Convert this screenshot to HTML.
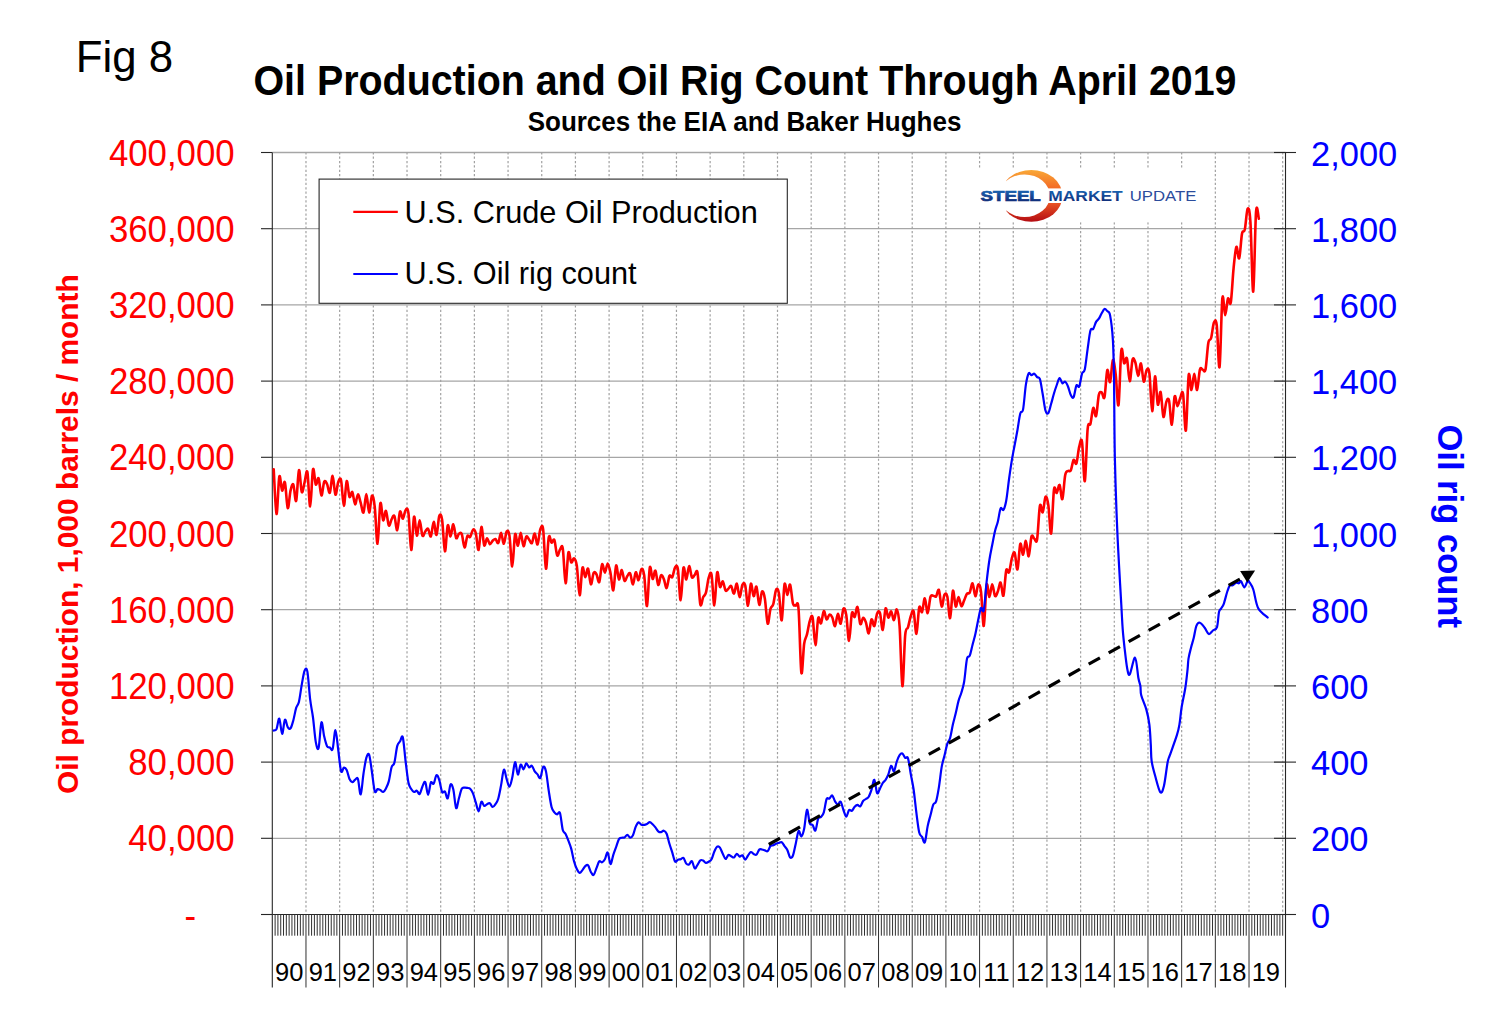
<!DOCTYPE html>
<html><head><meta charset="utf-8"><style>
html,body{margin:0;padding:0;background:#fff;}
body{width:1493px;height:1022px;overflow:hidden;}
svg{display:block;font-family:"Liberation Sans",sans-serif;}
.yl{font-size:34.8px;fill:#ff0000;}
.yr{font-size:34.5px;fill:#0000ff;}
.xl{font-size:25.5px;fill:#000;}
</style></head><body>
<svg width="1493" height="1022" viewBox="0 0 1493 1022">
<defs>
<linearGradient id="og" x1="0" y1="0" x2="0" y2="1"><stop offset="0" stop-color="#f9a836"/><stop offset="0.35" stop-color="#f36b26"/><stop offset="0.62" stop-color="#ec5624"/><stop offset="1" stop-color="#b40c12"/></linearGradient>
<linearGradient id="bg" x1="0" y1="0" x2="0" y2="1"><stop offset="0" stop-color="#1b6fbd"/><stop offset="1" stop-color="#0e1f6b"/></linearGradient>
</defs>
<text transform="translate(75.7,71.6) scale(1,1.02)" font-size="43.8" fill="#000">Fig 8</text>
<text transform="translate(745,95.4) scale(1,1.06)" font-size="39.4" font-weight="bold" text-anchor="middle" fill="#000">Oil Production and Oil Rig Count Through April 2019</text>
<text transform="translate(744.5,130.8) scale(1,1.05)" font-size="26" font-weight="bold" text-anchor="middle" fill="#000">Sources the EIA and Baker Hughes</text>
<g><line x1="272.3" y1="152.50" x2="1285.51" y2="152.50" stroke="#a6a6a6" stroke-width="1.3"/>
<line x1="272.3" y1="228.70" x2="1285.51" y2="228.70" stroke="#a6a6a6" stroke-width="1.3"/>
<line x1="272.3" y1="304.90" x2="1285.51" y2="304.90" stroke="#a6a6a6" stroke-width="1.3"/>
<line x1="272.3" y1="381.10" x2="1285.51" y2="381.10" stroke="#a6a6a6" stroke-width="1.3"/>
<line x1="272.3" y1="457.30" x2="1285.51" y2="457.30" stroke="#a6a6a6" stroke-width="1.3"/>
<line x1="272.3" y1="533.50" x2="1285.51" y2="533.50" stroke="#a6a6a6" stroke-width="1.3"/>
<line x1="272.3" y1="609.70" x2="1285.51" y2="609.70" stroke="#a6a6a6" stroke-width="1.3"/>
<line x1="272.3" y1="685.90" x2="1285.51" y2="685.90" stroke="#a6a6a6" stroke-width="1.3"/>
<line x1="272.3" y1="762.10" x2="1285.51" y2="762.10" stroke="#a6a6a6" stroke-width="1.3"/>
<line x1="272.3" y1="838.30" x2="1285.51" y2="838.30" stroke="#a6a6a6" stroke-width="1.3"/>
<line x1="305.98" y1="152.5" x2="305.98" y2="914.5" stroke="#a0a0a0" stroke-width="1.2" stroke-dasharray="2.2 2.178" stroke-dashoffset="0.31"/>
<line x1="339.66" y1="152.5" x2="339.66" y2="914.5" stroke="#a0a0a0" stroke-width="1.2" stroke-dasharray="2.2 2.178" stroke-dashoffset="0.31"/>
<line x1="373.34" y1="152.5" x2="373.34" y2="914.5" stroke="#a0a0a0" stroke-width="1.2" stroke-dasharray="2.2 2.178" stroke-dashoffset="0.31"/>
<line x1="407.02" y1="152.5" x2="407.02" y2="914.5" stroke="#a0a0a0" stroke-width="1.2" stroke-dasharray="2.2 2.178" stroke-dashoffset="0.31"/>
<line x1="440.70" y1="152.5" x2="440.70" y2="914.5" stroke="#a0a0a0" stroke-width="1.2" stroke-dasharray="2.2 2.178" stroke-dashoffset="0.31"/>
<line x1="474.38" y1="152.5" x2="474.38" y2="914.5" stroke="#a0a0a0" stroke-width="1.2" stroke-dasharray="2.2 2.178" stroke-dashoffset="0.31"/>
<line x1="508.06" y1="152.5" x2="508.06" y2="914.5" stroke="#a0a0a0" stroke-width="1.2" stroke-dasharray="2.2 2.178" stroke-dashoffset="0.31"/>
<line x1="541.74" y1="152.5" x2="541.74" y2="914.5" stroke="#a0a0a0" stroke-width="1.2" stroke-dasharray="2.2 2.178" stroke-dashoffset="0.31"/>
<line x1="575.42" y1="152.5" x2="575.42" y2="914.5" stroke="#a0a0a0" stroke-width="1.2" stroke-dasharray="2.2 2.178" stroke-dashoffset="0.31"/>
<line x1="609.10" y1="152.5" x2="609.10" y2="914.5" stroke="#a0a0a0" stroke-width="1.2" stroke-dasharray="2.2 2.178" stroke-dashoffset="0.31"/>
<line x1="642.78" y1="152.5" x2="642.78" y2="914.5" stroke="#a0a0a0" stroke-width="1.2" stroke-dasharray="2.2 2.178" stroke-dashoffset="0.31"/>
<line x1="676.46" y1="152.5" x2="676.46" y2="914.5" stroke="#a0a0a0" stroke-width="1.2" stroke-dasharray="2.2 2.178" stroke-dashoffset="0.31"/>
<line x1="710.14" y1="152.5" x2="710.14" y2="914.5" stroke="#a0a0a0" stroke-width="1.2" stroke-dasharray="2.2 2.178" stroke-dashoffset="0.31"/>
<line x1="743.82" y1="152.5" x2="743.82" y2="914.5" stroke="#a0a0a0" stroke-width="1.2" stroke-dasharray="2.2 2.178" stroke-dashoffset="0.31"/>
<line x1="777.50" y1="152.5" x2="777.50" y2="914.5" stroke="#a0a0a0" stroke-width="1.2" stroke-dasharray="2.2 2.178" stroke-dashoffset="0.31"/>
<line x1="811.18" y1="152.5" x2="811.18" y2="914.5" stroke="#a0a0a0" stroke-width="1.2" stroke-dasharray="2.2 2.178" stroke-dashoffset="0.31"/>
<line x1="844.86" y1="152.5" x2="844.86" y2="914.5" stroke="#a0a0a0" stroke-width="1.2" stroke-dasharray="2.2 2.178" stroke-dashoffset="0.31"/>
<line x1="878.54" y1="152.5" x2="878.54" y2="914.5" stroke="#a0a0a0" stroke-width="1.2" stroke-dasharray="2.2 2.178" stroke-dashoffset="0.31"/>
<line x1="912.22" y1="152.5" x2="912.22" y2="914.5" stroke="#a0a0a0" stroke-width="1.2" stroke-dasharray="2.2 2.178" stroke-dashoffset="0.31"/>
<line x1="945.90" y1="152.5" x2="945.90" y2="914.5" stroke="#a0a0a0" stroke-width="1.2" stroke-dasharray="2.2 2.178" stroke-dashoffset="0.31"/>
<line x1="979.58" y1="152.5" x2="979.58" y2="914.5" stroke="#a0a0a0" stroke-width="1.2" stroke-dasharray="2.2 2.178" stroke-dashoffset="0.31"/>
<line x1="1013.26" y1="152.5" x2="1013.26" y2="914.5" stroke="#a0a0a0" stroke-width="1.2" stroke-dasharray="2.2 2.178" stroke-dashoffset="0.31"/>
<line x1="1046.94" y1="152.5" x2="1046.94" y2="914.5" stroke="#a0a0a0" stroke-width="1.2" stroke-dasharray="2.2 2.178" stroke-dashoffset="0.31"/>
<line x1="1080.62" y1="152.5" x2="1080.62" y2="914.5" stroke="#a0a0a0" stroke-width="1.2" stroke-dasharray="2.2 2.178" stroke-dashoffset="0.31"/>
<line x1="1114.30" y1="152.5" x2="1114.30" y2="914.5" stroke="#a0a0a0" stroke-width="1.2" stroke-dasharray="2.2 2.178" stroke-dashoffset="0.31"/>
<line x1="1147.98" y1="152.5" x2="1147.98" y2="914.5" stroke="#a0a0a0" stroke-width="1.2" stroke-dasharray="2.2 2.178" stroke-dashoffset="0.31"/>
<line x1="1181.66" y1="152.5" x2="1181.66" y2="914.5" stroke="#a0a0a0" stroke-width="1.2" stroke-dasharray="2.2 2.178" stroke-dashoffset="0.31"/>
<line x1="1215.34" y1="152.5" x2="1215.34" y2="914.5" stroke="#a0a0a0" stroke-width="1.2" stroke-dasharray="2.2 2.178" stroke-dashoffset="0.31"/>
<line x1="1249.02" y1="152.5" x2="1249.02" y2="914.5" stroke="#a0a0a0" stroke-width="1.2" stroke-dasharray="2.2 2.178" stroke-dashoffset="0.31"/>
<line x1="1282.70" y1="152.5" x2="1282.70" y2="914.5" stroke="#a0a0a0" stroke-width="1.2" stroke-dasharray="2.2 2.178" stroke-dashoffset="0.31"/></g>
<rect x="962" y="168.6" width="243" height="53.6" fill="#fff"/>
<g><line x1="272.3" y1="152.5" x2="272.3" y2="987.5" stroke="#262626" stroke-width="1.1"/>
<line x1="1285.51" y1="152.5" x2="1285.51" y2="987.5" stroke="#262626" stroke-width="1.1"/>
<line x1="272.3" y1="914.5" x2="1285.51" y2="914.5" stroke="#262626" stroke-width="1.1"/>
<line x1="261" y1="152.50" x2="272.3" y2="152.50" stroke="#262626" stroke-width="1.1"/>
<line x1="1274" y1="152.50" x2="1296" y2="152.50" stroke="#262626" stroke-width="1.1"/>
<line x1="261" y1="228.70" x2="272.3" y2="228.70" stroke="#262626" stroke-width="1.1"/>
<line x1="1274" y1="228.70" x2="1296" y2="228.70" stroke="#262626" stroke-width="1.1"/>
<line x1="261" y1="304.90" x2="272.3" y2="304.90" stroke="#262626" stroke-width="1.1"/>
<line x1="1274" y1="304.90" x2="1296" y2="304.90" stroke="#262626" stroke-width="1.1"/>
<line x1="261" y1="381.10" x2="272.3" y2="381.10" stroke="#262626" stroke-width="1.1"/>
<line x1="1274" y1="381.10" x2="1296" y2="381.10" stroke="#262626" stroke-width="1.1"/>
<line x1="261" y1="457.30" x2="272.3" y2="457.30" stroke="#262626" stroke-width="1.1"/>
<line x1="1274" y1="457.30" x2="1296" y2="457.30" stroke="#262626" stroke-width="1.1"/>
<line x1="261" y1="533.50" x2="272.3" y2="533.50" stroke="#262626" stroke-width="1.1"/>
<line x1="1274" y1="533.50" x2="1296" y2="533.50" stroke="#262626" stroke-width="1.1"/>
<line x1="261" y1="609.70" x2="272.3" y2="609.70" stroke="#262626" stroke-width="1.1"/>
<line x1="1274" y1="609.70" x2="1296" y2="609.70" stroke="#262626" stroke-width="1.1"/>
<line x1="261" y1="685.90" x2="272.3" y2="685.90" stroke="#262626" stroke-width="1.1"/>
<line x1="1274" y1="685.90" x2="1296" y2="685.90" stroke="#262626" stroke-width="1.1"/>
<line x1="261" y1="762.10" x2="272.3" y2="762.10" stroke="#262626" stroke-width="1.1"/>
<line x1="1274" y1="762.10" x2="1296" y2="762.10" stroke="#262626" stroke-width="1.1"/>
<line x1="261" y1="838.30" x2="272.3" y2="838.30" stroke="#262626" stroke-width="1.1"/>
<line x1="1274" y1="838.30" x2="1296" y2="838.30" stroke="#262626" stroke-width="1.1"/>
<line x1="261" y1="914.50" x2="272.3" y2="914.50" stroke="#262626" stroke-width="1.1"/>
<line x1="1274" y1="914.50" x2="1296" y2="914.50" stroke="#262626" stroke-width="1.1"/>
<line x1="275.11" y1="914.5" x2="275.11" y2="935.7" stroke="#303030" stroke-width="1"/>
<line x1="277.91" y1="914.5" x2="277.91" y2="935.7" stroke="#303030" stroke-width="1"/>
<line x1="280.72" y1="914.5" x2="280.72" y2="935.7" stroke="#303030" stroke-width="1"/>
<line x1="283.53" y1="914.5" x2="283.53" y2="935.7" stroke="#303030" stroke-width="1"/>
<line x1="286.33" y1="914.5" x2="286.33" y2="935.7" stroke="#303030" stroke-width="1"/>
<line x1="289.14" y1="914.5" x2="289.14" y2="935.7" stroke="#303030" stroke-width="1"/>
<line x1="291.95" y1="914.5" x2="291.95" y2="935.7" stroke="#303030" stroke-width="1"/>
<line x1="294.75" y1="914.5" x2="294.75" y2="935.7" stroke="#303030" stroke-width="1"/>
<line x1="297.56" y1="914.5" x2="297.56" y2="935.7" stroke="#303030" stroke-width="1"/>
<line x1="300.37" y1="914.5" x2="300.37" y2="935.7" stroke="#303030" stroke-width="1"/>
<line x1="303.17" y1="914.5" x2="303.17" y2="935.7" stroke="#303030" stroke-width="1"/>
<line x1="305.98" y1="914.5" x2="305.98" y2="987.5" stroke="#303030" stroke-width="1"/>
<line x1="308.79" y1="914.5" x2="308.79" y2="935.7" stroke="#303030" stroke-width="1"/>
<line x1="311.59" y1="914.5" x2="311.59" y2="935.7" stroke="#303030" stroke-width="1"/>
<line x1="314.40" y1="914.5" x2="314.40" y2="935.7" stroke="#303030" stroke-width="1"/>
<line x1="317.21" y1="914.5" x2="317.21" y2="935.7" stroke="#303030" stroke-width="1"/>
<line x1="320.01" y1="914.5" x2="320.01" y2="935.7" stroke="#303030" stroke-width="1"/>
<line x1="322.82" y1="914.5" x2="322.82" y2="935.7" stroke="#303030" stroke-width="1"/>
<line x1="325.63" y1="914.5" x2="325.63" y2="935.7" stroke="#303030" stroke-width="1"/>
<line x1="328.43" y1="914.5" x2="328.43" y2="935.7" stroke="#303030" stroke-width="1"/>
<line x1="331.24" y1="914.5" x2="331.24" y2="935.7" stroke="#303030" stroke-width="1"/>
<line x1="334.05" y1="914.5" x2="334.05" y2="935.7" stroke="#303030" stroke-width="1"/>
<line x1="336.85" y1="914.5" x2="336.85" y2="935.7" stroke="#303030" stroke-width="1"/>
<line x1="339.66" y1="914.5" x2="339.66" y2="987.5" stroke="#303030" stroke-width="1"/>
<line x1="342.47" y1="914.5" x2="342.47" y2="935.7" stroke="#303030" stroke-width="1"/>
<line x1="345.27" y1="914.5" x2="345.27" y2="935.7" stroke="#303030" stroke-width="1"/>
<line x1="348.08" y1="914.5" x2="348.08" y2="935.7" stroke="#303030" stroke-width="1"/>
<line x1="350.89" y1="914.5" x2="350.89" y2="935.7" stroke="#303030" stroke-width="1"/>
<line x1="353.69" y1="914.5" x2="353.69" y2="935.7" stroke="#303030" stroke-width="1"/>
<line x1="356.50" y1="914.5" x2="356.50" y2="935.7" stroke="#303030" stroke-width="1"/>
<line x1="359.31" y1="914.5" x2="359.31" y2="935.7" stroke="#303030" stroke-width="1"/>
<line x1="362.11" y1="914.5" x2="362.11" y2="935.7" stroke="#303030" stroke-width="1"/>
<line x1="364.92" y1="914.5" x2="364.92" y2="935.7" stroke="#303030" stroke-width="1"/>
<line x1="367.73" y1="914.5" x2="367.73" y2="935.7" stroke="#303030" stroke-width="1"/>
<line x1="370.53" y1="914.5" x2="370.53" y2="935.7" stroke="#303030" stroke-width="1"/>
<line x1="373.34" y1="914.5" x2="373.34" y2="987.5" stroke="#303030" stroke-width="1"/>
<line x1="376.15" y1="914.5" x2="376.15" y2="935.7" stroke="#303030" stroke-width="1"/>
<line x1="378.95" y1="914.5" x2="378.95" y2="935.7" stroke="#303030" stroke-width="1"/>
<line x1="381.76" y1="914.5" x2="381.76" y2="935.7" stroke="#303030" stroke-width="1"/>
<line x1="384.57" y1="914.5" x2="384.57" y2="935.7" stroke="#303030" stroke-width="1"/>
<line x1="387.37" y1="914.5" x2="387.37" y2="935.7" stroke="#303030" stroke-width="1"/>
<line x1="390.18" y1="914.5" x2="390.18" y2="935.7" stroke="#303030" stroke-width="1"/>
<line x1="392.99" y1="914.5" x2="392.99" y2="935.7" stroke="#303030" stroke-width="1"/>
<line x1="395.79" y1="914.5" x2="395.79" y2="935.7" stroke="#303030" stroke-width="1"/>
<line x1="398.60" y1="914.5" x2="398.60" y2="935.7" stroke="#303030" stroke-width="1"/>
<line x1="401.41" y1="914.5" x2="401.41" y2="935.7" stroke="#303030" stroke-width="1"/>
<line x1="404.21" y1="914.5" x2="404.21" y2="935.7" stroke="#303030" stroke-width="1"/>
<line x1="407.02" y1="914.5" x2="407.02" y2="987.5" stroke="#303030" stroke-width="1"/>
<line x1="409.83" y1="914.5" x2="409.83" y2="935.7" stroke="#303030" stroke-width="1"/>
<line x1="412.63" y1="914.5" x2="412.63" y2="935.7" stroke="#303030" stroke-width="1"/>
<line x1="415.44" y1="914.5" x2="415.44" y2="935.7" stroke="#303030" stroke-width="1"/>
<line x1="418.25" y1="914.5" x2="418.25" y2="935.7" stroke="#303030" stroke-width="1"/>
<line x1="421.05" y1="914.5" x2="421.05" y2="935.7" stroke="#303030" stroke-width="1"/>
<line x1="423.86" y1="914.5" x2="423.86" y2="935.7" stroke="#303030" stroke-width="1"/>
<line x1="426.67" y1="914.5" x2="426.67" y2="935.7" stroke="#303030" stroke-width="1"/>
<line x1="429.47" y1="914.5" x2="429.47" y2="935.7" stroke="#303030" stroke-width="1"/>
<line x1="432.28" y1="914.5" x2="432.28" y2="935.7" stroke="#303030" stroke-width="1"/>
<line x1="435.09" y1="914.5" x2="435.09" y2="935.7" stroke="#303030" stroke-width="1"/>
<line x1="437.89" y1="914.5" x2="437.89" y2="935.7" stroke="#303030" stroke-width="1"/>
<line x1="440.70" y1="914.5" x2="440.70" y2="987.5" stroke="#303030" stroke-width="1"/>
<line x1="443.51" y1="914.5" x2="443.51" y2="935.7" stroke="#303030" stroke-width="1"/>
<line x1="446.31" y1="914.5" x2="446.31" y2="935.7" stroke="#303030" stroke-width="1"/>
<line x1="449.12" y1="914.5" x2="449.12" y2="935.7" stroke="#303030" stroke-width="1"/>
<line x1="451.93" y1="914.5" x2="451.93" y2="935.7" stroke="#303030" stroke-width="1"/>
<line x1="454.73" y1="914.5" x2="454.73" y2="935.7" stroke="#303030" stroke-width="1"/>
<line x1="457.54" y1="914.5" x2="457.54" y2="935.7" stroke="#303030" stroke-width="1"/>
<line x1="460.35" y1="914.5" x2="460.35" y2="935.7" stroke="#303030" stroke-width="1"/>
<line x1="463.15" y1="914.5" x2="463.15" y2="935.7" stroke="#303030" stroke-width="1"/>
<line x1="465.96" y1="914.5" x2="465.96" y2="935.7" stroke="#303030" stroke-width="1"/>
<line x1="468.77" y1="914.5" x2="468.77" y2="935.7" stroke="#303030" stroke-width="1"/>
<line x1="471.57" y1="914.5" x2="471.57" y2="935.7" stroke="#303030" stroke-width="1"/>
<line x1="474.38" y1="914.5" x2="474.38" y2="987.5" stroke="#303030" stroke-width="1"/>
<line x1="477.19" y1="914.5" x2="477.19" y2="935.7" stroke="#303030" stroke-width="1"/>
<line x1="479.99" y1="914.5" x2="479.99" y2="935.7" stroke="#303030" stroke-width="1"/>
<line x1="482.80" y1="914.5" x2="482.80" y2="935.7" stroke="#303030" stroke-width="1"/>
<line x1="485.61" y1="914.5" x2="485.61" y2="935.7" stroke="#303030" stroke-width="1"/>
<line x1="488.41" y1="914.5" x2="488.41" y2="935.7" stroke="#303030" stroke-width="1"/>
<line x1="491.22" y1="914.5" x2="491.22" y2="935.7" stroke="#303030" stroke-width="1"/>
<line x1="494.03" y1="914.5" x2="494.03" y2="935.7" stroke="#303030" stroke-width="1"/>
<line x1="496.83" y1="914.5" x2="496.83" y2="935.7" stroke="#303030" stroke-width="1"/>
<line x1="499.64" y1="914.5" x2="499.64" y2="935.7" stroke="#303030" stroke-width="1"/>
<line x1="502.45" y1="914.5" x2="502.45" y2="935.7" stroke="#303030" stroke-width="1"/>
<line x1="505.25" y1="914.5" x2="505.25" y2="935.7" stroke="#303030" stroke-width="1"/>
<line x1="508.06" y1="914.5" x2="508.06" y2="987.5" stroke="#303030" stroke-width="1"/>
<line x1="510.87" y1="914.5" x2="510.87" y2="935.7" stroke="#303030" stroke-width="1"/>
<line x1="513.67" y1="914.5" x2="513.67" y2="935.7" stroke="#303030" stroke-width="1"/>
<line x1="516.48" y1="914.5" x2="516.48" y2="935.7" stroke="#303030" stroke-width="1"/>
<line x1="519.29" y1="914.5" x2="519.29" y2="935.7" stroke="#303030" stroke-width="1"/>
<line x1="522.09" y1="914.5" x2="522.09" y2="935.7" stroke="#303030" stroke-width="1"/>
<line x1="524.90" y1="914.5" x2="524.90" y2="935.7" stroke="#303030" stroke-width="1"/>
<line x1="527.71" y1="914.5" x2="527.71" y2="935.7" stroke="#303030" stroke-width="1"/>
<line x1="530.51" y1="914.5" x2="530.51" y2="935.7" stroke="#303030" stroke-width="1"/>
<line x1="533.32" y1="914.5" x2="533.32" y2="935.7" stroke="#303030" stroke-width="1"/>
<line x1="536.13" y1="914.5" x2="536.13" y2="935.7" stroke="#303030" stroke-width="1"/>
<line x1="538.93" y1="914.5" x2="538.93" y2="935.7" stroke="#303030" stroke-width="1"/>
<line x1="541.74" y1="914.5" x2="541.74" y2="987.5" stroke="#303030" stroke-width="1"/>
<line x1="544.55" y1="914.5" x2="544.55" y2="935.7" stroke="#303030" stroke-width="1"/>
<line x1="547.35" y1="914.5" x2="547.35" y2="935.7" stroke="#303030" stroke-width="1"/>
<line x1="550.16" y1="914.5" x2="550.16" y2="935.7" stroke="#303030" stroke-width="1"/>
<line x1="552.97" y1="914.5" x2="552.97" y2="935.7" stroke="#303030" stroke-width="1"/>
<line x1="555.77" y1="914.5" x2="555.77" y2="935.7" stroke="#303030" stroke-width="1"/>
<line x1="558.58" y1="914.5" x2="558.58" y2="935.7" stroke="#303030" stroke-width="1"/>
<line x1="561.39" y1="914.5" x2="561.39" y2="935.7" stroke="#303030" stroke-width="1"/>
<line x1="564.19" y1="914.5" x2="564.19" y2="935.7" stroke="#303030" stroke-width="1"/>
<line x1="567.00" y1="914.5" x2="567.00" y2="935.7" stroke="#303030" stroke-width="1"/>
<line x1="569.81" y1="914.5" x2="569.81" y2="935.7" stroke="#303030" stroke-width="1"/>
<line x1="572.61" y1="914.5" x2="572.61" y2="935.7" stroke="#303030" stroke-width="1"/>
<line x1="575.42" y1="914.5" x2="575.42" y2="987.5" stroke="#303030" stroke-width="1"/>
<line x1="578.23" y1="914.5" x2="578.23" y2="935.7" stroke="#303030" stroke-width="1"/>
<line x1="581.03" y1="914.5" x2="581.03" y2="935.7" stroke="#303030" stroke-width="1"/>
<line x1="583.84" y1="914.5" x2="583.84" y2="935.7" stroke="#303030" stroke-width="1"/>
<line x1="586.65" y1="914.5" x2="586.65" y2="935.7" stroke="#303030" stroke-width="1"/>
<line x1="589.45" y1="914.5" x2="589.45" y2="935.7" stroke="#303030" stroke-width="1"/>
<line x1="592.26" y1="914.5" x2="592.26" y2="935.7" stroke="#303030" stroke-width="1"/>
<line x1="595.07" y1="914.5" x2="595.07" y2="935.7" stroke="#303030" stroke-width="1"/>
<line x1="597.87" y1="914.5" x2="597.87" y2="935.7" stroke="#303030" stroke-width="1"/>
<line x1="600.68" y1="914.5" x2="600.68" y2="935.7" stroke="#303030" stroke-width="1"/>
<line x1="603.49" y1="914.5" x2="603.49" y2="935.7" stroke="#303030" stroke-width="1"/>
<line x1="606.29" y1="914.5" x2="606.29" y2="935.7" stroke="#303030" stroke-width="1"/>
<line x1="609.10" y1="914.5" x2="609.10" y2="987.5" stroke="#303030" stroke-width="1"/>
<line x1="611.91" y1="914.5" x2="611.91" y2="935.7" stroke="#303030" stroke-width="1"/>
<line x1="614.71" y1="914.5" x2="614.71" y2="935.7" stroke="#303030" stroke-width="1"/>
<line x1="617.52" y1="914.5" x2="617.52" y2="935.7" stroke="#303030" stroke-width="1"/>
<line x1="620.33" y1="914.5" x2="620.33" y2="935.7" stroke="#303030" stroke-width="1"/>
<line x1="623.13" y1="914.5" x2="623.13" y2="935.7" stroke="#303030" stroke-width="1"/>
<line x1="625.94" y1="914.5" x2="625.94" y2="935.7" stroke="#303030" stroke-width="1"/>
<line x1="628.75" y1="914.5" x2="628.75" y2="935.7" stroke="#303030" stroke-width="1"/>
<line x1="631.55" y1="914.5" x2="631.55" y2="935.7" stroke="#303030" stroke-width="1"/>
<line x1="634.36" y1="914.5" x2="634.36" y2="935.7" stroke="#303030" stroke-width="1"/>
<line x1="637.17" y1="914.5" x2="637.17" y2="935.7" stroke="#303030" stroke-width="1"/>
<line x1="639.97" y1="914.5" x2="639.97" y2="935.7" stroke="#303030" stroke-width="1"/>
<line x1="642.78" y1="914.5" x2="642.78" y2="987.5" stroke="#303030" stroke-width="1"/>
<line x1="645.59" y1="914.5" x2="645.59" y2="935.7" stroke="#303030" stroke-width="1"/>
<line x1="648.39" y1="914.5" x2="648.39" y2="935.7" stroke="#303030" stroke-width="1"/>
<line x1="651.20" y1="914.5" x2="651.20" y2="935.7" stroke="#303030" stroke-width="1"/>
<line x1="654.01" y1="914.5" x2="654.01" y2="935.7" stroke="#303030" stroke-width="1"/>
<line x1="656.81" y1="914.5" x2="656.81" y2="935.7" stroke="#303030" stroke-width="1"/>
<line x1="659.62" y1="914.5" x2="659.62" y2="935.7" stroke="#303030" stroke-width="1"/>
<line x1="662.43" y1="914.5" x2="662.43" y2="935.7" stroke="#303030" stroke-width="1"/>
<line x1="665.23" y1="914.5" x2="665.23" y2="935.7" stroke="#303030" stroke-width="1"/>
<line x1="668.04" y1="914.5" x2="668.04" y2="935.7" stroke="#303030" stroke-width="1"/>
<line x1="670.85" y1="914.5" x2="670.85" y2="935.7" stroke="#303030" stroke-width="1"/>
<line x1="673.65" y1="914.5" x2="673.65" y2="935.7" stroke="#303030" stroke-width="1"/>
<line x1="676.46" y1="914.5" x2="676.46" y2="987.5" stroke="#303030" stroke-width="1"/>
<line x1="679.27" y1="914.5" x2="679.27" y2="935.7" stroke="#303030" stroke-width="1"/>
<line x1="682.07" y1="914.5" x2="682.07" y2="935.7" stroke="#303030" stroke-width="1"/>
<line x1="684.88" y1="914.5" x2="684.88" y2="935.7" stroke="#303030" stroke-width="1"/>
<line x1="687.69" y1="914.5" x2="687.69" y2="935.7" stroke="#303030" stroke-width="1"/>
<line x1="690.49" y1="914.5" x2="690.49" y2="935.7" stroke="#303030" stroke-width="1"/>
<line x1="693.30" y1="914.5" x2="693.30" y2="935.7" stroke="#303030" stroke-width="1"/>
<line x1="696.11" y1="914.5" x2="696.11" y2="935.7" stroke="#303030" stroke-width="1"/>
<line x1="698.91" y1="914.5" x2="698.91" y2="935.7" stroke="#303030" stroke-width="1"/>
<line x1="701.72" y1="914.5" x2="701.72" y2="935.7" stroke="#303030" stroke-width="1"/>
<line x1="704.53" y1="914.5" x2="704.53" y2="935.7" stroke="#303030" stroke-width="1"/>
<line x1="707.33" y1="914.5" x2="707.33" y2="935.7" stroke="#303030" stroke-width="1"/>
<line x1="710.14" y1="914.5" x2="710.14" y2="987.5" stroke="#303030" stroke-width="1"/>
<line x1="712.95" y1="914.5" x2="712.95" y2="935.7" stroke="#303030" stroke-width="1"/>
<line x1="715.75" y1="914.5" x2="715.75" y2="935.7" stroke="#303030" stroke-width="1"/>
<line x1="718.56" y1="914.5" x2="718.56" y2="935.7" stroke="#303030" stroke-width="1"/>
<line x1="721.37" y1="914.5" x2="721.37" y2="935.7" stroke="#303030" stroke-width="1"/>
<line x1="724.17" y1="914.5" x2="724.17" y2="935.7" stroke="#303030" stroke-width="1"/>
<line x1="726.98" y1="914.5" x2="726.98" y2="935.7" stroke="#303030" stroke-width="1"/>
<line x1="729.79" y1="914.5" x2="729.79" y2="935.7" stroke="#303030" stroke-width="1"/>
<line x1="732.59" y1="914.5" x2="732.59" y2="935.7" stroke="#303030" stroke-width="1"/>
<line x1="735.40" y1="914.5" x2="735.40" y2="935.7" stroke="#303030" stroke-width="1"/>
<line x1="738.21" y1="914.5" x2="738.21" y2="935.7" stroke="#303030" stroke-width="1"/>
<line x1="741.01" y1="914.5" x2="741.01" y2="935.7" stroke="#303030" stroke-width="1"/>
<line x1="743.82" y1="914.5" x2="743.82" y2="987.5" stroke="#303030" stroke-width="1"/>
<line x1="746.63" y1="914.5" x2="746.63" y2="935.7" stroke="#303030" stroke-width="1"/>
<line x1="749.43" y1="914.5" x2="749.43" y2="935.7" stroke="#303030" stroke-width="1"/>
<line x1="752.24" y1="914.5" x2="752.24" y2="935.7" stroke="#303030" stroke-width="1"/>
<line x1="755.05" y1="914.5" x2="755.05" y2="935.7" stroke="#303030" stroke-width="1"/>
<line x1="757.85" y1="914.5" x2="757.85" y2="935.7" stroke="#303030" stroke-width="1"/>
<line x1="760.66" y1="914.5" x2="760.66" y2="935.7" stroke="#303030" stroke-width="1"/>
<line x1="763.47" y1="914.5" x2="763.47" y2="935.7" stroke="#303030" stroke-width="1"/>
<line x1="766.27" y1="914.5" x2="766.27" y2="935.7" stroke="#303030" stroke-width="1"/>
<line x1="769.08" y1="914.5" x2="769.08" y2="935.7" stroke="#303030" stroke-width="1"/>
<line x1="771.89" y1="914.5" x2="771.89" y2="935.7" stroke="#303030" stroke-width="1"/>
<line x1="774.69" y1="914.5" x2="774.69" y2="935.7" stroke="#303030" stroke-width="1"/>
<line x1="777.50" y1="914.5" x2="777.50" y2="987.5" stroke="#303030" stroke-width="1"/>
<line x1="780.31" y1="914.5" x2="780.31" y2="935.7" stroke="#303030" stroke-width="1"/>
<line x1="783.11" y1="914.5" x2="783.11" y2="935.7" stroke="#303030" stroke-width="1"/>
<line x1="785.92" y1="914.5" x2="785.92" y2="935.7" stroke="#303030" stroke-width="1"/>
<line x1="788.73" y1="914.5" x2="788.73" y2="935.7" stroke="#303030" stroke-width="1"/>
<line x1="791.53" y1="914.5" x2="791.53" y2="935.7" stroke="#303030" stroke-width="1"/>
<line x1="794.34" y1="914.5" x2="794.34" y2="935.7" stroke="#303030" stroke-width="1"/>
<line x1="797.15" y1="914.5" x2="797.15" y2="935.7" stroke="#303030" stroke-width="1"/>
<line x1="799.95" y1="914.5" x2="799.95" y2="935.7" stroke="#303030" stroke-width="1"/>
<line x1="802.76" y1="914.5" x2="802.76" y2="935.7" stroke="#303030" stroke-width="1"/>
<line x1="805.57" y1="914.5" x2="805.57" y2="935.7" stroke="#303030" stroke-width="1"/>
<line x1="808.37" y1="914.5" x2="808.37" y2="935.7" stroke="#303030" stroke-width="1"/>
<line x1="811.18" y1="914.5" x2="811.18" y2="987.5" stroke="#303030" stroke-width="1"/>
<line x1="813.99" y1="914.5" x2="813.99" y2="935.7" stroke="#303030" stroke-width="1"/>
<line x1="816.79" y1="914.5" x2="816.79" y2="935.7" stroke="#303030" stroke-width="1"/>
<line x1="819.60" y1="914.5" x2="819.60" y2="935.7" stroke="#303030" stroke-width="1"/>
<line x1="822.41" y1="914.5" x2="822.41" y2="935.7" stroke="#303030" stroke-width="1"/>
<line x1="825.21" y1="914.5" x2="825.21" y2="935.7" stroke="#303030" stroke-width="1"/>
<line x1="828.02" y1="914.5" x2="828.02" y2="935.7" stroke="#303030" stroke-width="1"/>
<line x1="830.83" y1="914.5" x2="830.83" y2="935.7" stroke="#303030" stroke-width="1"/>
<line x1="833.63" y1="914.5" x2="833.63" y2="935.7" stroke="#303030" stroke-width="1"/>
<line x1="836.44" y1="914.5" x2="836.44" y2="935.7" stroke="#303030" stroke-width="1"/>
<line x1="839.25" y1="914.5" x2="839.25" y2="935.7" stroke="#303030" stroke-width="1"/>
<line x1="842.05" y1="914.5" x2="842.05" y2="935.7" stroke="#303030" stroke-width="1"/>
<line x1="844.86" y1="914.5" x2="844.86" y2="987.5" stroke="#303030" stroke-width="1"/>
<line x1="847.67" y1="914.5" x2="847.67" y2="935.7" stroke="#303030" stroke-width="1"/>
<line x1="850.47" y1="914.5" x2="850.47" y2="935.7" stroke="#303030" stroke-width="1"/>
<line x1="853.28" y1="914.5" x2="853.28" y2="935.7" stroke="#303030" stroke-width="1"/>
<line x1="856.09" y1="914.5" x2="856.09" y2="935.7" stroke="#303030" stroke-width="1"/>
<line x1="858.89" y1="914.5" x2="858.89" y2="935.7" stroke="#303030" stroke-width="1"/>
<line x1="861.70" y1="914.5" x2="861.70" y2="935.7" stroke="#303030" stroke-width="1"/>
<line x1="864.51" y1="914.5" x2="864.51" y2="935.7" stroke="#303030" stroke-width="1"/>
<line x1="867.31" y1="914.5" x2="867.31" y2="935.7" stroke="#303030" stroke-width="1"/>
<line x1="870.12" y1="914.5" x2="870.12" y2="935.7" stroke="#303030" stroke-width="1"/>
<line x1="872.93" y1="914.5" x2="872.93" y2="935.7" stroke="#303030" stroke-width="1"/>
<line x1="875.73" y1="914.5" x2="875.73" y2="935.7" stroke="#303030" stroke-width="1"/>
<line x1="878.54" y1="914.5" x2="878.54" y2="987.5" stroke="#303030" stroke-width="1"/>
<line x1="881.35" y1="914.5" x2="881.35" y2="935.7" stroke="#303030" stroke-width="1"/>
<line x1="884.15" y1="914.5" x2="884.15" y2="935.7" stroke="#303030" stroke-width="1"/>
<line x1="886.96" y1="914.5" x2="886.96" y2="935.7" stroke="#303030" stroke-width="1"/>
<line x1="889.77" y1="914.5" x2="889.77" y2="935.7" stroke="#303030" stroke-width="1"/>
<line x1="892.57" y1="914.5" x2="892.57" y2="935.7" stroke="#303030" stroke-width="1"/>
<line x1="895.38" y1="914.5" x2="895.38" y2="935.7" stroke="#303030" stroke-width="1"/>
<line x1="898.19" y1="914.5" x2="898.19" y2="935.7" stroke="#303030" stroke-width="1"/>
<line x1="900.99" y1="914.5" x2="900.99" y2="935.7" stroke="#303030" stroke-width="1"/>
<line x1="903.80" y1="914.5" x2="903.80" y2="935.7" stroke="#303030" stroke-width="1"/>
<line x1="906.61" y1="914.5" x2="906.61" y2="935.7" stroke="#303030" stroke-width="1"/>
<line x1="909.41" y1="914.5" x2="909.41" y2="935.7" stroke="#303030" stroke-width="1"/>
<line x1="912.22" y1="914.5" x2="912.22" y2="987.5" stroke="#303030" stroke-width="1"/>
<line x1="915.03" y1="914.5" x2="915.03" y2="935.7" stroke="#303030" stroke-width="1"/>
<line x1="917.83" y1="914.5" x2="917.83" y2="935.7" stroke="#303030" stroke-width="1"/>
<line x1="920.64" y1="914.5" x2="920.64" y2="935.7" stroke="#303030" stroke-width="1"/>
<line x1="923.45" y1="914.5" x2="923.45" y2="935.7" stroke="#303030" stroke-width="1"/>
<line x1="926.25" y1="914.5" x2="926.25" y2="935.7" stroke="#303030" stroke-width="1"/>
<line x1="929.06" y1="914.5" x2="929.06" y2="935.7" stroke="#303030" stroke-width="1"/>
<line x1="931.87" y1="914.5" x2="931.87" y2="935.7" stroke="#303030" stroke-width="1"/>
<line x1="934.67" y1="914.5" x2="934.67" y2="935.7" stroke="#303030" stroke-width="1"/>
<line x1="937.48" y1="914.5" x2="937.48" y2="935.7" stroke="#303030" stroke-width="1"/>
<line x1="940.29" y1="914.5" x2="940.29" y2="935.7" stroke="#303030" stroke-width="1"/>
<line x1="943.09" y1="914.5" x2="943.09" y2="935.7" stroke="#303030" stroke-width="1"/>
<line x1="945.90" y1="914.5" x2="945.90" y2="987.5" stroke="#303030" stroke-width="1"/>
<line x1="948.71" y1="914.5" x2="948.71" y2="935.7" stroke="#303030" stroke-width="1"/>
<line x1="951.51" y1="914.5" x2="951.51" y2="935.7" stroke="#303030" stroke-width="1"/>
<line x1="954.32" y1="914.5" x2="954.32" y2="935.7" stroke="#303030" stroke-width="1"/>
<line x1="957.13" y1="914.5" x2="957.13" y2="935.7" stroke="#303030" stroke-width="1"/>
<line x1="959.93" y1="914.5" x2="959.93" y2="935.7" stroke="#303030" stroke-width="1"/>
<line x1="962.74" y1="914.5" x2="962.74" y2="935.7" stroke="#303030" stroke-width="1"/>
<line x1="965.55" y1="914.5" x2="965.55" y2="935.7" stroke="#303030" stroke-width="1"/>
<line x1="968.35" y1="914.5" x2="968.35" y2="935.7" stroke="#303030" stroke-width="1"/>
<line x1="971.16" y1="914.5" x2="971.16" y2="935.7" stroke="#303030" stroke-width="1"/>
<line x1="973.97" y1="914.5" x2="973.97" y2="935.7" stroke="#303030" stroke-width="1"/>
<line x1="976.77" y1="914.5" x2="976.77" y2="935.7" stroke="#303030" stroke-width="1"/>
<line x1="979.58" y1="914.5" x2="979.58" y2="987.5" stroke="#303030" stroke-width="1"/>
<line x1="982.39" y1="914.5" x2="982.39" y2="935.7" stroke="#303030" stroke-width="1"/>
<line x1="985.19" y1="914.5" x2="985.19" y2="935.7" stroke="#303030" stroke-width="1"/>
<line x1="988.00" y1="914.5" x2="988.00" y2="935.7" stroke="#303030" stroke-width="1"/>
<line x1="990.81" y1="914.5" x2="990.81" y2="935.7" stroke="#303030" stroke-width="1"/>
<line x1="993.61" y1="914.5" x2="993.61" y2="935.7" stroke="#303030" stroke-width="1"/>
<line x1="996.42" y1="914.5" x2="996.42" y2="935.7" stroke="#303030" stroke-width="1"/>
<line x1="999.23" y1="914.5" x2="999.23" y2="935.7" stroke="#303030" stroke-width="1"/>
<line x1="1002.03" y1="914.5" x2="1002.03" y2="935.7" stroke="#303030" stroke-width="1"/>
<line x1="1004.84" y1="914.5" x2="1004.84" y2="935.7" stroke="#303030" stroke-width="1"/>
<line x1="1007.65" y1="914.5" x2="1007.65" y2="935.7" stroke="#303030" stroke-width="1"/>
<line x1="1010.45" y1="914.5" x2="1010.45" y2="935.7" stroke="#303030" stroke-width="1"/>
<line x1="1013.26" y1="914.5" x2="1013.26" y2="987.5" stroke="#303030" stroke-width="1"/>
<line x1="1016.07" y1="914.5" x2="1016.07" y2="935.7" stroke="#303030" stroke-width="1"/>
<line x1="1018.87" y1="914.5" x2="1018.87" y2="935.7" stroke="#303030" stroke-width="1"/>
<line x1="1021.68" y1="914.5" x2="1021.68" y2="935.7" stroke="#303030" stroke-width="1"/>
<line x1="1024.49" y1="914.5" x2="1024.49" y2="935.7" stroke="#303030" stroke-width="1"/>
<line x1="1027.29" y1="914.5" x2="1027.29" y2="935.7" stroke="#303030" stroke-width="1"/>
<line x1="1030.10" y1="914.5" x2="1030.10" y2="935.7" stroke="#303030" stroke-width="1"/>
<line x1="1032.91" y1="914.5" x2="1032.91" y2="935.7" stroke="#303030" stroke-width="1"/>
<line x1="1035.71" y1="914.5" x2="1035.71" y2="935.7" stroke="#303030" stroke-width="1"/>
<line x1="1038.52" y1="914.5" x2="1038.52" y2="935.7" stroke="#303030" stroke-width="1"/>
<line x1="1041.33" y1="914.5" x2="1041.33" y2="935.7" stroke="#303030" stroke-width="1"/>
<line x1="1044.13" y1="914.5" x2="1044.13" y2="935.7" stroke="#303030" stroke-width="1"/>
<line x1="1046.94" y1="914.5" x2="1046.94" y2="987.5" stroke="#303030" stroke-width="1"/>
<line x1="1049.75" y1="914.5" x2="1049.75" y2="935.7" stroke="#303030" stroke-width="1"/>
<line x1="1052.55" y1="914.5" x2="1052.55" y2="935.7" stroke="#303030" stroke-width="1"/>
<line x1="1055.36" y1="914.5" x2="1055.36" y2="935.7" stroke="#303030" stroke-width="1"/>
<line x1="1058.17" y1="914.5" x2="1058.17" y2="935.7" stroke="#303030" stroke-width="1"/>
<line x1="1060.97" y1="914.5" x2="1060.97" y2="935.7" stroke="#303030" stroke-width="1"/>
<line x1="1063.78" y1="914.5" x2="1063.78" y2="935.7" stroke="#303030" stroke-width="1"/>
<line x1="1066.59" y1="914.5" x2="1066.59" y2="935.7" stroke="#303030" stroke-width="1"/>
<line x1="1069.39" y1="914.5" x2="1069.39" y2="935.7" stroke="#303030" stroke-width="1"/>
<line x1="1072.20" y1="914.5" x2="1072.20" y2="935.7" stroke="#303030" stroke-width="1"/>
<line x1="1075.01" y1="914.5" x2="1075.01" y2="935.7" stroke="#303030" stroke-width="1"/>
<line x1="1077.81" y1="914.5" x2="1077.81" y2="935.7" stroke="#303030" stroke-width="1"/>
<line x1="1080.62" y1="914.5" x2="1080.62" y2="987.5" stroke="#303030" stroke-width="1"/>
<line x1="1083.43" y1="914.5" x2="1083.43" y2="935.7" stroke="#303030" stroke-width="1"/>
<line x1="1086.23" y1="914.5" x2="1086.23" y2="935.7" stroke="#303030" stroke-width="1"/>
<line x1="1089.04" y1="914.5" x2="1089.04" y2="935.7" stroke="#303030" stroke-width="1"/>
<line x1="1091.85" y1="914.5" x2="1091.85" y2="935.7" stroke="#303030" stroke-width="1"/>
<line x1="1094.65" y1="914.5" x2="1094.65" y2="935.7" stroke="#303030" stroke-width="1"/>
<line x1="1097.46" y1="914.5" x2="1097.46" y2="935.7" stroke="#303030" stroke-width="1"/>
<line x1="1100.27" y1="914.5" x2="1100.27" y2="935.7" stroke="#303030" stroke-width="1"/>
<line x1="1103.07" y1="914.5" x2="1103.07" y2="935.7" stroke="#303030" stroke-width="1"/>
<line x1="1105.88" y1="914.5" x2="1105.88" y2="935.7" stroke="#303030" stroke-width="1"/>
<line x1="1108.69" y1="914.5" x2="1108.69" y2="935.7" stroke="#303030" stroke-width="1"/>
<line x1="1111.49" y1="914.5" x2="1111.49" y2="935.7" stroke="#303030" stroke-width="1"/>
<line x1="1114.30" y1="914.5" x2="1114.30" y2="987.5" stroke="#303030" stroke-width="1"/>
<line x1="1117.11" y1="914.5" x2="1117.11" y2="935.7" stroke="#303030" stroke-width="1"/>
<line x1="1119.91" y1="914.5" x2="1119.91" y2="935.7" stroke="#303030" stroke-width="1"/>
<line x1="1122.72" y1="914.5" x2="1122.72" y2="935.7" stroke="#303030" stroke-width="1"/>
<line x1="1125.53" y1="914.5" x2="1125.53" y2="935.7" stroke="#303030" stroke-width="1"/>
<line x1="1128.33" y1="914.5" x2="1128.33" y2="935.7" stroke="#303030" stroke-width="1"/>
<line x1="1131.14" y1="914.5" x2="1131.14" y2="935.7" stroke="#303030" stroke-width="1"/>
<line x1="1133.95" y1="914.5" x2="1133.95" y2="935.7" stroke="#303030" stroke-width="1"/>
<line x1="1136.75" y1="914.5" x2="1136.75" y2="935.7" stroke="#303030" stroke-width="1"/>
<line x1="1139.56" y1="914.5" x2="1139.56" y2="935.7" stroke="#303030" stroke-width="1"/>
<line x1="1142.37" y1="914.5" x2="1142.37" y2="935.7" stroke="#303030" stroke-width="1"/>
<line x1="1145.17" y1="914.5" x2="1145.17" y2="935.7" stroke="#303030" stroke-width="1"/>
<line x1="1147.98" y1="914.5" x2="1147.98" y2="987.5" stroke="#303030" stroke-width="1"/>
<line x1="1150.79" y1="914.5" x2="1150.79" y2="935.7" stroke="#303030" stroke-width="1"/>
<line x1="1153.59" y1="914.5" x2="1153.59" y2="935.7" stroke="#303030" stroke-width="1"/>
<line x1="1156.40" y1="914.5" x2="1156.40" y2="935.7" stroke="#303030" stroke-width="1"/>
<line x1="1159.21" y1="914.5" x2="1159.21" y2="935.7" stroke="#303030" stroke-width="1"/>
<line x1="1162.01" y1="914.5" x2="1162.01" y2="935.7" stroke="#303030" stroke-width="1"/>
<line x1="1164.82" y1="914.5" x2="1164.82" y2="935.7" stroke="#303030" stroke-width="1"/>
<line x1="1167.63" y1="914.5" x2="1167.63" y2="935.7" stroke="#303030" stroke-width="1"/>
<line x1="1170.43" y1="914.5" x2="1170.43" y2="935.7" stroke="#303030" stroke-width="1"/>
<line x1="1173.24" y1="914.5" x2="1173.24" y2="935.7" stroke="#303030" stroke-width="1"/>
<line x1="1176.05" y1="914.5" x2="1176.05" y2="935.7" stroke="#303030" stroke-width="1"/>
<line x1="1178.85" y1="914.5" x2="1178.85" y2="935.7" stroke="#303030" stroke-width="1"/>
<line x1="1181.66" y1="914.5" x2="1181.66" y2="987.5" stroke="#303030" stroke-width="1"/>
<line x1="1184.47" y1="914.5" x2="1184.47" y2="935.7" stroke="#303030" stroke-width="1"/>
<line x1="1187.27" y1="914.5" x2="1187.27" y2="935.7" stroke="#303030" stroke-width="1"/>
<line x1="1190.08" y1="914.5" x2="1190.08" y2="935.7" stroke="#303030" stroke-width="1"/>
<line x1="1192.89" y1="914.5" x2="1192.89" y2="935.7" stroke="#303030" stroke-width="1"/>
<line x1="1195.69" y1="914.5" x2="1195.69" y2="935.7" stroke="#303030" stroke-width="1"/>
<line x1="1198.50" y1="914.5" x2="1198.50" y2="935.7" stroke="#303030" stroke-width="1"/>
<line x1="1201.31" y1="914.5" x2="1201.31" y2="935.7" stroke="#303030" stroke-width="1"/>
<line x1="1204.11" y1="914.5" x2="1204.11" y2="935.7" stroke="#303030" stroke-width="1"/>
<line x1="1206.92" y1="914.5" x2="1206.92" y2="935.7" stroke="#303030" stroke-width="1"/>
<line x1="1209.73" y1="914.5" x2="1209.73" y2="935.7" stroke="#303030" stroke-width="1"/>
<line x1="1212.53" y1="914.5" x2="1212.53" y2="935.7" stroke="#303030" stroke-width="1"/>
<line x1="1215.34" y1="914.5" x2="1215.34" y2="987.5" stroke="#303030" stroke-width="1"/>
<line x1="1218.15" y1="914.5" x2="1218.15" y2="935.7" stroke="#303030" stroke-width="1"/>
<line x1="1220.95" y1="914.5" x2="1220.95" y2="935.7" stroke="#303030" stroke-width="1"/>
<line x1="1223.76" y1="914.5" x2="1223.76" y2="935.7" stroke="#303030" stroke-width="1"/>
<line x1="1226.57" y1="914.5" x2="1226.57" y2="935.7" stroke="#303030" stroke-width="1"/>
<line x1="1229.37" y1="914.5" x2="1229.37" y2="935.7" stroke="#303030" stroke-width="1"/>
<line x1="1232.18" y1="914.5" x2="1232.18" y2="935.7" stroke="#303030" stroke-width="1"/>
<line x1="1234.99" y1="914.5" x2="1234.99" y2="935.7" stroke="#303030" stroke-width="1"/>
<line x1="1237.79" y1="914.5" x2="1237.79" y2="935.7" stroke="#303030" stroke-width="1"/>
<line x1="1240.60" y1="914.5" x2="1240.60" y2="935.7" stroke="#303030" stroke-width="1"/>
<line x1="1243.41" y1="914.5" x2="1243.41" y2="935.7" stroke="#303030" stroke-width="1"/>
<line x1="1246.21" y1="914.5" x2="1246.21" y2="935.7" stroke="#303030" stroke-width="1"/>
<line x1="1249.02" y1="914.5" x2="1249.02" y2="987.5" stroke="#303030" stroke-width="1"/>
<line x1="1251.83" y1="914.5" x2="1251.83" y2="935.7" stroke="#303030" stroke-width="1"/>
<line x1="1254.63" y1="914.5" x2="1254.63" y2="935.7" stroke="#303030" stroke-width="1"/>
<line x1="1257.44" y1="914.5" x2="1257.44" y2="935.7" stroke="#303030" stroke-width="1"/>
<line x1="1260.25" y1="914.5" x2="1260.25" y2="935.7" stroke="#303030" stroke-width="1"/>
<line x1="1263.05" y1="914.5" x2="1263.05" y2="935.7" stroke="#303030" stroke-width="1"/>
<line x1="1265.86" y1="914.5" x2="1265.86" y2="935.7" stroke="#303030" stroke-width="1"/>
<line x1="1268.67" y1="914.5" x2="1268.67" y2="935.7" stroke="#303030" stroke-width="1"/>
<line x1="1271.47" y1="914.5" x2="1271.47" y2="935.7" stroke="#303030" stroke-width="1"/>
<line x1="1274.28" y1="914.5" x2="1274.28" y2="935.7" stroke="#303030" stroke-width="1"/>
<line x1="1277.09" y1="914.5" x2="1277.09" y2="935.7" stroke="#303030" stroke-width="1"/>
<line x1="1279.89" y1="914.5" x2="1279.89" y2="935.7" stroke="#303030" stroke-width="1"/>
<line x1="1282.70" y1="914.5" x2="1282.70" y2="935.7" stroke="#303030" stroke-width="1"/></g>
<g><text transform="translate(234.6,165.50) scale(1,1.042)" text-anchor="end" class="yl">400,000</text>
<text transform="translate(1311,165.50) scale(1,1.042)" class="yr">2,000</text>
<text transform="translate(234.6,241.70) scale(1,1.042)" text-anchor="end" class="yl">360,000</text>
<text transform="translate(1311,241.70) scale(1,1.042)" class="yr">1,800</text>
<text transform="translate(234.6,317.90) scale(1,1.042)" text-anchor="end" class="yl">320,000</text>
<text transform="translate(1311,317.90) scale(1,1.042)" class="yr">1,600</text>
<text transform="translate(234.6,394.10) scale(1,1.042)" text-anchor="end" class="yl">280,000</text>
<text transform="translate(1311,394.10) scale(1,1.042)" class="yr">1,400</text>
<text transform="translate(234.6,470.30) scale(1,1.042)" text-anchor="end" class="yl">240,000</text>
<text transform="translate(1311,470.30) scale(1,1.042)" class="yr">1,200</text>
<text transform="translate(234.6,546.50) scale(1,1.042)" text-anchor="end" class="yl">200,000</text>
<text transform="translate(1311,546.50) scale(1,1.042)" class="yr">1,000</text>
<text transform="translate(234.6,622.70) scale(1,1.042)" text-anchor="end" class="yl">160,000</text>
<text transform="translate(1311,622.70) scale(1,1.042)" class="yr">800</text>
<text transform="translate(234.6,698.90) scale(1,1.042)" text-anchor="end" class="yl">120,000</text>
<text transform="translate(1311,698.90) scale(1,1.042)" class="yr">600</text>
<text transform="translate(234.6,775.10) scale(1,1.042)" text-anchor="end" class="yl">80,000</text>
<text transform="translate(1311,775.10) scale(1,1.042)" class="yr">400</text>
<text transform="translate(234.6,851.30) scale(1,1.042)" text-anchor="end" class="yl">40,000</text>
<text transform="translate(1311,851.30) scale(1,1.042)" class="yr">200</text>
<text transform="translate(196.2,927.50) scale(1,1.042)" text-anchor="end" class="yl">-</text>
<text transform="translate(1311,927.50) scale(1,1.042)" class="yr">0</text>
<text transform="translate(289.14,981) scale(1,1.03)" text-anchor="middle" class="xl">90</text>
<text transform="translate(322.82,981) scale(1,1.03)" text-anchor="middle" class="xl">91</text>
<text transform="translate(356.50,981) scale(1,1.03)" text-anchor="middle" class="xl">92</text>
<text transform="translate(390.18,981) scale(1,1.03)" text-anchor="middle" class="xl">93</text>
<text transform="translate(423.86,981) scale(1,1.03)" text-anchor="middle" class="xl">94</text>
<text transform="translate(457.54,981) scale(1,1.03)" text-anchor="middle" class="xl">95</text>
<text transform="translate(491.22,981) scale(1,1.03)" text-anchor="middle" class="xl">96</text>
<text transform="translate(524.90,981) scale(1,1.03)" text-anchor="middle" class="xl">97</text>
<text transform="translate(558.58,981) scale(1,1.03)" text-anchor="middle" class="xl">98</text>
<text transform="translate(592.26,981) scale(1,1.03)" text-anchor="middle" class="xl">99</text>
<text transform="translate(625.94,981) scale(1,1.03)" text-anchor="middle" class="xl">00</text>
<text transform="translate(659.62,981) scale(1,1.03)" text-anchor="middle" class="xl">01</text>
<text transform="translate(693.30,981) scale(1,1.03)" text-anchor="middle" class="xl">02</text>
<text transform="translate(726.98,981) scale(1,1.03)" text-anchor="middle" class="xl">03</text>
<text transform="translate(760.66,981) scale(1,1.03)" text-anchor="middle" class="xl">04</text>
<text transform="translate(794.34,981) scale(1,1.03)" text-anchor="middle" class="xl">05</text>
<text transform="translate(828.02,981) scale(1,1.03)" text-anchor="middle" class="xl">06</text>
<text transform="translate(861.70,981) scale(1,1.03)" text-anchor="middle" class="xl">07</text>
<text transform="translate(895.38,981) scale(1,1.03)" text-anchor="middle" class="xl">08</text>
<text transform="translate(929.06,981) scale(1,1.03)" text-anchor="middle" class="xl">09</text>
<text transform="translate(962.74,981) scale(1,1.03)" text-anchor="middle" class="xl">10</text>
<text transform="translate(996.42,981) scale(1,1.03)" text-anchor="middle" class="xl">11</text>
<text transform="translate(1030.10,981) scale(1,1.03)" text-anchor="middle" class="xl">12</text>
<text transform="translate(1063.78,981) scale(1,1.03)" text-anchor="middle" class="xl">13</text>
<text transform="translate(1097.46,981) scale(1,1.03)" text-anchor="middle" class="xl">14</text>
<text transform="translate(1131.14,981) scale(1,1.03)" text-anchor="middle" class="xl">15</text>
<text transform="translate(1164.82,981) scale(1,1.03)" text-anchor="middle" class="xl">16</text>
<text transform="translate(1198.50,981) scale(1,1.03)" text-anchor="middle" class="xl">17</text>
<text transform="translate(1232.18,981) scale(1,1.03)" text-anchor="middle" class="xl">18</text>
<text transform="translate(1265.86,981) scale(1,1.03)" text-anchor="middle" class="xl">19</text></g>
<text transform="translate(77.6,534.1) rotate(-90)" text-anchor="middle" font-size="29.9" font-weight="bold" fill="#ff0000">Oil production, 1,000 barrels / month</text>
<text transform="translate(1438.4,526.2) rotate(90)" text-anchor="middle" font-size="34.6" font-weight="bold" fill="#0000ff">Oil rig count</text>
<rect x="319.1" y="179.1" width="468.2" height="124.2" fill="#fff" stroke="#262626" stroke-width="1.1"/>
<line x1="353.3" y1="211.8" x2="397.8" y2="211.8" stroke="#ff0000" stroke-width="2.2"/>
<line x1="353.3" y1="274" x2="397.8" y2="274" stroke="#0000ff" stroke-width="2.2"/>
<text transform="translate(404.6,222.6) scale(1,1.04)" font-size="30.7" fill="#000">U.S. Crude Oil Production</text>
<text transform="translate(404.6,284.2) scale(1,1.04)" font-size="30.7" fill="#000">U.S. Oil rig count</text>
<!-- logo -->
<mask id="cm" maskUnits="userSpaceOnUse" x="990" y="160" width="90" height="70"><rect x="990" y="160" width="90" height="70" fill="#fff"/><ellipse cx="1024.5" cy="195.8" rx="25.4" ry="21.3" fill="#000"/><rect x="990" y="188.4" width="90" height="14.6" fill="#000"/><rect x="990" y="178" width="16.3" height="36" fill="#000"/></mask>
<ellipse cx="1031.3" cy="195.85" rx="31.2" ry="25.95" fill="url(#og)" mask="url(#cm)"/>
<text x="980.5" y="201.2" font-size="14.8" font-weight="bold" fill="url(#bg)" stroke="url(#bg)" stroke-width="0.7" textLength="60.3" lengthAdjust="spacingAndGlyphs">STEEL</text>
<text x="1048.3" y="201.2" font-size="14.8" font-weight="bold" fill="url(#bg)" textLength="74.4" lengthAdjust="spacingAndGlyphs">MARKET</text>
<text x="1129.8" y="201.2" font-size="14.8" fill="#2b4c9c" textLength="66.5" lengthAdjust="spacingAndGlyphs">UPDATE</text>
<path d="M273.70,469.40 C274.17,476.82 275.57,512.70 276.51,513.90 C277.45,515.10 278.38,480.48 279.32,476.60 C280.25,472.72 281.19,489.63 282.12,490.60 C283.06,491.57 283.99,479.48 284.93,482.40 C285.87,485.32 286.80,506.73 287.74,508.10 C288.67,509.47 289.61,494.53 290.54,490.60 C291.48,486.67 292.41,482.78 293.35,484.50 C294.29,486.22 295.22,503.30 296.16,500.90 C297.09,498.50 298.03,471.58 298.96,470.10 C299.90,468.62 300.83,489.95 301.77,492.00 C302.71,494.05 303.64,485.72 304.58,482.40 C305.51,479.08 306.45,468.10 307.38,472.10 C308.32,476.10 309.25,506.85 310.19,506.40 C311.13,505.95 312.06,473.05 313.00,469.40 C313.93,465.75 314.87,483.02 315.80,484.50 C316.74,485.98 317.67,476.48 318.61,478.30 C319.55,480.12 320.48,494.83 321.42,495.40 C322.35,495.97 323.29,483.60 324.22,481.70 C325.16,479.80 326.09,482.17 327.03,484.00 C327.97,485.83 328.90,494.05 329.84,492.70 C330.77,491.35 331.71,475.57 332.64,475.90 C333.58,476.23 334.51,493.68 335.45,494.70 C336.39,495.72 337.32,484.40 338.26,482.00 C339.19,479.60 340.13,476.32 341.06,480.30 C342.00,484.28 342.93,505.77 343.87,505.90 C344.81,506.03 345.74,482.62 346.68,481.10 C347.61,479.58 348.55,494.97 349.48,496.80 C350.42,498.63 351.35,490.85 352.29,492.10 C353.23,493.35 354.16,503.92 355.10,504.30 C356.03,504.68 356.97,494.63 357.90,494.40 C358.84,494.17 359.77,499.88 360.71,502.90 C361.65,505.92 362.58,513.98 363.52,512.50 C364.45,511.02 365.39,494.00 366.32,494.00 C367.26,494.00 368.19,512.23 369.13,512.50 C370.07,512.77 371.00,496.55 371.94,495.60 C372.87,494.65 373.81,498.77 374.74,506.80 C375.68,514.83 376.61,544.37 377.55,543.80 C378.49,543.23 379.42,507.32 380.36,503.40 C381.29,499.48 382.23,519.05 383.16,520.30 C384.10,521.55 385.03,510.05 385.97,510.90 C386.91,511.75 387.84,524.00 388.78,525.40 C389.71,526.80 390.65,520.87 391.58,519.30 C392.52,517.73 393.45,514.20 394.39,516.00 C395.33,517.80 396.26,530.83 397.20,530.10 C398.13,529.37 399.07,513.48 400.00,511.60 C400.94,509.72 401.87,519.05 402.81,518.80 C403.75,518.55 404.68,511.07 405.62,510.10 C406.55,509.13 407.49,506.35 408.42,513.00 C409.36,519.65 410.29,549.37 411.23,550.00 C412.17,550.63 413.10,519.20 414.04,516.80 C414.97,514.40 415.91,535.02 416.84,535.60 C417.78,536.18 418.71,520.30 419.65,520.30 C420.59,520.30 421.52,533.73 422.46,535.60 C423.39,537.47 424.33,532.65 425.26,531.50 C426.20,530.35 427.13,527.88 428.07,528.70 C429.01,529.52 429.94,537.53 430.88,536.40 C431.81,535.27 432.75,522.15 433.68,521.90 C434.62,521.65 435.55,535.88 436.49,534.90 C437.43,533.92 438.36,518.53 439.30,516.00 C440.23,513.47 441.17,513.82 442.10,519.70 C443.04,525.58 443.97,550.35 444.91,551.30 C445.85,552.25 446.78,527.88 447.72,525.40 C448.65,522.92 449.59,536.60 450.52,536.40 C451.46,536.20 452.39,523.93 453.33,524.20 C454.27,524.47 455.20,536.40 456.14,538.00 C457.07,539.60 458.01,534.47 458.94,533.80 C459.88,533.13 460.81,531.73 461.75,534.00 C462.69,536.27 463.62,547.07 464.56,547.40 C465.49,547.73 466.43,537.73 467.36,536.00 C468.30,534.27 469.23,538.05 470.17,537.00 C471.11,535.95 472.04,530.37 472.98,529.70 C473.91,529.03 474.85,529.62 475.78,533.00 C476.72,536.38 477.65,551.02 478.59,550.00 C479.53,548.98 480.46,527.68 481.40,526.90 C482.33,526.12 483.27,543.42 484.20,545.30 C485.14,547.18 486.07,538.38 487.01,538.20 C487.95,538.02 488.88,543.77 489.82,544.20 C490.75,544.63 491.69,541.67 492.62,540.80 C493.56,539.93 494.49,538.63 495.43,539.00 C496.37,539.37 497.30,544.05 498.24,543.00 C499.17,541.95 500.11,532.57 501.04,532.70 C501.98,532.83 502.91,543.98 503.85,543.80 C504.79,543.62 505.72,532.95 506.66,531.60 C507.59,530.25 508.53,529.88 509.46,535.70 C510.40,541.52 511.33,566.73 512.27,566.50 C513.21,566.27 514.14,537.77 515.08,534.30 C516.01,530.83 516.95,545.97 517.88,545.70 C518.82,545.43 519.75,532.63 520.69,532.70 C521.63,532.77 522.56,545.45 523.50,546.10 C524.43,546.75 525.37,537.68 526.30,536.60 C527.24,535.52 528.17,538.53 529.11,539.60 C530.05,540.67 530.98,544.02 531.92,543.00 C532.85,541.98 533.79,533.25 534.72,533.50 C535.66,533.75 536.59,545.22 537.53,544.50 C538.47,543.78 539.40,531.70 540.34,529.20 C541.27,526.70 542.21,522.92 543.14,529.50 C544.08,536.08 545.01,567.40 545.95,568.70 C546.89,570.00 547.82,541.65 548.76,537.30 C549.69,532.95 550.63,542.15 551.56,542.60 C552.50,543.05 553.43,537.87 554.37,540.00 C555.31,542.13 556.24,553.78 557.18,555.40 C558.11,557.02 559.05,550.83 559.98,549.70 C560.92,548.57 561.85,543.02 562.79,548.60 C563.73,554.18 564.66,582.53 565.60,583.20 C566.53,583.87 567.47,556.07 568.40,552.60 C569.34,549.13 570.27,561.43 571.21,562.40 C572.15,563.37 573.08,557.85 574.02,558.40 C574.95,558.95 575.89,559.55 576.82,565.70 C577.76,571.85 578.69,594.95 579.63,595.30 C580.57,595.65 581.50,570.80 582.44,567.80 C583.37,564.80 584.31,577.17 585.24,577.30 C586.18,577.43 587.11,567.43 588.05,568.60 C588.99,569.77 589.92,583.58 590.86,584.30 C591.79,585.02 592.73,574.57 593.66,572.90 C594.60,571.23 595.53,572.78 596.47,574.30 C597.41,575.82 598.34,583.67 599.28,582.00 C600.21,580.33 601.15,565.87 602.08,564.30 C603.02,562.73 603.95,572.73 604.89,572.60 C605.83,572.47 606.76,563.43 607.70,563.50 C608.63,563.57 609.57,568.53 610.50,573.00 C611.44,577.47 612.37,591.53 613.31,590.30 C614.25,589.07 615.18,567.42 616.12,565.60 C617.05,563.78 617.99,578.65 618.92,579.40 C619.86,580.15 620.79,569.85 621.73,570.10 C622.67,570.35 623.60,579.92 624.54,580.90 C625.47,581.88 626.41,577.25 627.34,576.00 C628.28,574.75 629.21,571.98 630.15,573.40 C631.09,574.82 632.02,584.68 632.96,584.50 C633.89,584.32 634.83,573.02 635.76,572.30 C636.70,571.58 637.63,580.73 638.57,580.20 C639.51,579.67 640.44,569.93 641.38,569.10 C642.31,568.27 643.25,569.05 644.18,575.20 C645.12,581.35 646.05,607.27 646.99,606.00 C647.93,604.73 648.86,572.10 649.80,567.60 C650.73,563.10 651.67,578.48 652.60,579.00 C653.54,579.52 654.47,569.72 655.41,570.70 C656.35,571.68 657.28,584.12 658.22,584.90 C659.15,585.68 660.09,576.37 661.02,575.40 C661.96,574.43 662.89,577.00 663.83,579.10 C664.77,581.20 665.70,588.55 666.64,588.00 C667.57,587.45 668.51,577.60 669.44,575.80 C670.38,574.00 671.31,578.58 672.25,577.20 C673.19,575.82 674.12,568.87 675.06,567.50 C675.99,566.13 676.93,563.53 677.86,569.00 C678.80,574.47 679.73,600.52 680.67,600.30 C681.61,600.08 682.54,571.17 683.48,567.70 C684.41,564.23 685.35,579.77 686.28,579.50 C687.22,579.23 688.15,566.48 689.09,566.10 C690.03,565.72 690.96,575.72 691.90,577.20 C692.83,578.68 693.77,575.73 694.70,575.00 C695.64,574.27 696.57,567.90 697.51,572.80 C698.45,577.70 699.38,600.32 700.32,604.40 C701.25,608.48 702.19,599.27 703.12,597.30 C704.06,595.33 704.99,595.87 705.93,592.60 C706.87,589.33 707.80,580.68 708.74,577.70 C709.67,574.72 710.61,570.10 711.54,574.70 C712.48,579.30 713.41,605.68 714.35,605.30 C715.29,604.92 716.22,575.47 717.16,572.40 C718.09,569.33 719.03,585.40 719.96,586.90 C720.90,588.40 721.83,580.80 722.77,581.40 C723.71,582.00 724.64,589.28 725.58,590.50 C726.51,591.72 727.45,589.43 728.38,588.70 C729.32,587.97 730.25,585.28 731.19,586.10 C732.13,586.92 733.06,594.00 734.00,593.60 C734.93,593.20 735.87,583.12 736.80,583.70 C737.74,584.28 738.67,596.90 739.61,597.10 C740.55,597.30 741.48,586.87 742.42,584.90 C743.35,582.93 744.29,581.82 745.22,585.30 C746.16,588.78 747.09,606.05 748.03,605.80 C748.97,605.55 749.90,585.40 750.84,583.80 C751.77,582.20 752.71,595.72 753.64,596.20 C754.58,596.68 755.51,585.27 756.45,586.70 C757.39,588.13 758.32,604.02 759.26,604.80 C760.19,605.58 761.13,592.42 762.06,591.40 C763.00,590.38 763.93,593.33 764.87,598.70 C765.81,604.07 766.74,621.92 767.68,623.60 C768.61,625.28 769.55,612.05 770.48,608.80 C771.42,605.55 772.35,607.27 773.29,604.10 C774.23,600.93 775.16,591.62 776.10,589.80 C777.03,587.98 777.97,588.12 778.90,593.20 C779.84,598.28 780.77,621.78 781.71,620.30 C782.65,618.82 783.58,588.52 784.52,584.30 C785.45,580.08 786.39,594.93 787.32,595.00 C788.26,595.07 789.19,583.28 790.13,584.70 C791.07,586.12 792.00,600.03 792.94,603.50 C793.87,606.97 794.81,604.58 795.74,605.50 C796.68,606.42 797.61,597.82 798.55,609.00 C799.49,620.18 800.42,666.80 801.36,672.60 C802.29,678.40 803.23,650.17 804.16,643.80 C805.10,637.43 806.03,638.18 806.97,634.40 C807.91,630.62 808.84,623.93 809.78,621.10 C810.71,618.27 811.65,613.38 812.58,617.40 C813.52,621.42 814.45,645.07 815.39,645.20 C816.33,645.33 817.26,621.85 818.20,618.20 C819.13,614.55 820.07,624.48 821.00,623.30 C821.94,622.12 822.87,611.75 823.81,611.10 C824.75,610.45 825.68,618.82 826.62,619.40 C827.55,619.98 828.49,614.97 829.42,614.60 C830.36,614.23 831.29,615.28 832.23,617.20 C833.17,619.12 834.10,626.65 835.04,626.10 C835.97,625.55 836.91,614.30 837.84,613.90 C838.78,613.50 839.71,624.57 840.65,623.70 C841.59,622.83 842.52,610.15 843.46,608.70 C844.39,607.25 845.33,609.65 846.26,615.00 C847.20,620.35 848.13,641.08 849.07,640.80 C850.01,640.52 850.94,617.27 851.88,613.30 C852.81,609.33 853.75,618.05 854.68,617.00 C855.62,615.95 856.55,605.83 857.49,607.00 C858.43,608.17 859.36,622.20 860.30,624.00 C861.23,625.80 862.17,618.07 863.10,617.80 C864.04,617.53 864.97,619.82 865.91,622.40 C866.85,624.98 867.78,633.82 868.72,633.30 C869.65,632.78 870.59,620.52 871.52,619.30 C872.46,618.08 873.39,626.98 874.33,626.00 C875.27,625.02 876.20,615.58 877.14,613.40 C878.07,611.22 879.01,610.15 879.94,612.90 C880.88,615.65 881.81,630.63 882.75,629.90 C883.69,629.17 884.62,610.53 885.56,608.50 C886.49,606.47 887.43,617.22 888.36,617.70 C889.30,618.18 890.23,611.00 891.17,611.40 C892.11,611.80 893.04,620.42 893.98,620.10 C894.91,619.78 895.85,608.47 896.78,609.50 C897.72,610.53 898.65,613.53 899.59,626.30 C900.53,639.07 901.46,684.63 902.40,686.10 C903.33,687.57 904.27,644.90 905.20,635.10 C906.14,625.30 907.07,630.48 908.01,627.30 C908.95,624.12 909.88,618.65 910.82,616.00 C911.75,613.35 912.69,608.43 913.62,611.40 C914.56,614.37 915.49,634.47 916.43,633.80 C917.37,633.13 918.30,611.03 919.24,607.40 C920.17,603.77 921.11,613.53 922.04,612.00 C922.98,610.47 923.91,598.00 924.85,598.20 C925.79,598.40 926.72,613.40 927.66,613.20 C928.59,613.00 929.53,599.92 930.46,597.00 C931.40,594.08 932.33,595.78 933.27,595.70 C934.21,595.62 935.14,597.45 936.08,596.50 C937.01,595.55 937.95,588.33 938.88,590.00 C939.82,591.67 940.75,605.72 941.69,606.50 C942.63,607.28 943.56,596.37 944.50,594.70 C945.43,593.03 946.37,592.58 947.30,596.50 C948.24,600.42 949.17,619.15 950.11,618.20 C951.05,617.25 951.98,592.75 952.92,590.80 C953.85,588.85 954.79,605.47 955.72,606.50 C956.66,607.53 957.59,597.07 958.53,597.00 C959.47,596.93 960.40,605.53 961.34,606.10 C962.27,606.67 963.21,602.47 964.14,600.40 C965.08,598.33 966.01,595.00 966.95,593.70 C967.89,592.40 968.82,594.33 969.76,592.60 C970.69,590.87 971.63,582.70 972.56,583.30 C973.50,583.90 974.43,595.97 975.37,596.20 C976.31,596.43 977.24,585.52 978.18,584.70 C979.11,583.88 980.05,584.42 980.98,591.30 C981.92,598.18 982.85,627.07 983.79,626.00 C984.73,624.93 985.66,589.75 986.60,584.90 C987.53,580.05 988.47,597.02 989.40,596.90 C990.34,596.78 991.27,584.35 992.21,584.20 C993.15,584.05 994.08,594.78 995.02,596.00 C995.95,597.22 996.89,593.75 997.82,591.50 C998.76,589.25 999.69,581.82 1000.63,582.50 C1001.57,583.18 1002.50,597.62 1003.44,595.60 C1004.37,593.58 1005.31,574.28 1006.24,570.40 C1007.18,566.52 1008.11,574.32 1009.05,572.30 C1009.99,570.28 1010.92,561.53 1011.86,558.30 C1012.79,555.07 1013.73,551.05 1014.66,552.90 C1015.60,554.75 1016.53,570.88 1017.47,569.40 C1018.41,567.92 1019.34,546.47 1020.28,544.00 C1021.21,541.53 1022.15,555.12 1023.08,554.60 C1024.02,554.08 1024.95,540.62 1025.89,540.90 C1026.83,541.18 1027.76,557.03 1028.70,556.30 C1029.63,555.57 1030.57,539.43 1031.50,536.50 C1032.44,533.57 1033.37,538.25 1034.31,538.70 C1035.25,539.15 1036.18,544.70 1037.12,539.20 C1038.05,533.70 1038.99,510.18 1039.92,505.70 C1040.86,501.22 1041.79,513.77 1042.73,512.30 C1043.67,510.83 1044.60,498.08 1045.54,496.90 C1046.47,495.72 1047.41,499.12 1048.34,505.20 C1049.28,511.28 1050.21,535.97 1051.15,533.40 C1052.09,530.83 1053.02,496.55 1053.96,489.80 C1054.89,483.05 1055.83,493.70 1056.76,492.90 C1057.70,492.10 1058.63,483.97 1059.57,485.00 C1060.51,486.03 1061.44,500.72 1062.38,499.10 C1063.31,497.48 1064.25,479.98 1065.18,475.30 C1066.12,470.62 1067.05,471.80 1067.99,471.00 C1068.93,470.20 1069.86,472.35 1070.80,470.50 C1071.73,468.65 1072.67,461.08 1073.60,459.90 C1074.54,458.72 1075.47,465.60 1076.41,463.40 C1077.35,461.20 1078.28,450.28 1079.22,446.70 C1080.15,443.12 1081.09,436.17 1082.02,441.90 C1082.96,447.63 1083.89,483.23 1084.83,481.10 C1085.77,478.97 1086.70,438.65 1087.64,429.10 C1088.57,419.55 1089.51,427.32 1090.44,423.80 C1091.38,420.28 1092.31,409.30 1093.25,408.00 C1094.19,406.70 1095.12,418.18 1096.06,416.00 C1096.99,413.82 1097.93,398.85 1098.86,394.90 C1099.80,390.95 1100.73,391.93 1101.67,392.30 C1102.61,392.67 1103.54,400.78 1104.48,397.10 C1105.41,393.42 1106.35,372.70 1107.28,370.20 C1108.22,367.70 1109.15,383.78 1110.09,382.10 C1111.03,380.42 1111.96,361.35 1112.90,360.10 C1113.83,358.85 1114.77,367.12 1115.70,374.60 C1116.64,382.08 1117.57,409.03 1118.51,405.00 C1119.45,400.97 1120.38,357.37 1121.32,350.40 C1122.25,343.43 1123.19,361.88 1124.12,363.20 C1125.06,364.52 1125.99,355.28 1126.93,358.30 C1127.87,361.32 1128.80,381.08 1129.74,381.30 C1130.67,381.52 1131.61,362.73 1132.54,359.60 C1133.48,356.47 1134.41,359.78 1135.35,362.50 C1136.29,365.22 1137.22,375.73 1138.16,375.90 C1139.09,376.07 1140.03,362.55 1140.96,363.50 C1141.90,364.45 1142.83,380.50 1143.77,381.60 C1144.71,382.70 1145.64,371.50 1146.58,370.10 C1147.51,368.70 1148.45,366.37 1149.38,373.20 C1150.32,380.03 1151.25,410.58 1152.19,411.10 C1153.13,411.62 1154.06,377.40 1155.00,376.30 C1155.93,375.20 1156.87,401.87 1157.80,404.50 C1158.74,407.13 1159.67,390.05 1160.61,392.10 C1161.55,394.15 1162.48,415.10 1163.42,416.80 C1164.35,418.50 1165.29,405.02 1166.22,402.30 C1167.16,399.58 1168.09,396.77 1169.03,400.50 C1169.97,404.23 1170.90,425.37 1171.84,424.70 C1172.77,424.03 1173.71,399.58 1174.64,396.50 C1175.58,393.42 1176.51,405.97 1177.45,406.20 C1178.39,406.43 1179.32,399.95 1180.26,397.90 C1181.19,395.85 1182.13,388.47 1183.06,393.90 C1184.00,399.33 1184.93,433.62 1185.87,430.50 C1186.81,427.38 1187.74,381.95 1188.68,375.20 C1189.61,368.45 1190.55,390.23 1191.48,390.00 C1192.42,389.77 1193.35,373.80 1194.29,373.80 C1195.23,373.80 1196.16,390.70 1197.10,390.00 C1198.03,389.30 1198.97,373.00 1199.90,369.60 C1200.84,366.20 1201.77,369.62 1202.71,369.60 C1203.65,369.58 1204.58,373.95 1205.52,369.50 C1206.45,365.05 1207.39,348.15 1208.32,342.90 C1209.26,337.65 1210.19,341.38 1211.13,338.00 C1212.07,334.62 1213.00,324.73 1213.94,322.60 C1214.87,320.47 1215.81,317.80 1216.74,325.20 C1217.68,332.60 1218.61,371.52 1219.55,367.00 C1220.49,362.48 1221.42,306.73 1222.36,298.10 C1223.29,289.47 1224.23,315.12 1225.16,315.20 C1226.10,315.28 1227.03,300.72 1227.97,298.60 C1228.91,296.48 1229.84,307.55 1230.78,302.50 C1231.71,297.45 1232.65,277.57 1233.58,268.30 C1234.52,259.03 1235.45,248.57 1236.39,246.90 C1237.33,245.23 1238.26,260.48 1239.20,258.30 C1240.13,256.12 1241.07,238.60 1242.00,233.80 C1242.94,229.00 1243.87,233.68 1244.81,229.50 C1245.75,225.32 1246.68,209.95 1247.62,208.70 C1248.55,207.45 1249.49,208.17 1250.42,222.00 C1251.36,235.83 1252.29,293.38 1253.23,291.70 C1254.17,290.02 1255.10,224.07 1256.04,211.90 C1256.97,199.73 1258.38,217.57 1258.84,218.70" stroke="#ff0000" stroke-width="2.6" fill="none" stroke-linejoin="round" stroke-linecap="round"/>
<path d="M273.70,730.50 C274.17,730.27 275.57,731.08 276.51,729.10 C277.45,727.12 278.38,717.80 279.32,718.60 C280.25,719.40 281.19,733.72 282.12,733.90 C283.06,734.08 283.99,720.83 284.93,719.70 C285.87,718.57 286.80,725.65 287.74,727.10 C288.67,728.55 289.61,729.55 290.54,728.40 C291.48,727.25 292.41,723.62 293.35,720.20 C294.29,716.78 295.22,710.98 296.16,707.90 C297.09,704.82 298.03,705.58 298.96,701.70 C299.90,697.82 300.83,689.77 301.77,684.60 C302.71,679.43 303.64,672.87 304.58,670.70 C305.51,668.53 306.45,666.77 307.38,671.60 C308.32,676.43 309.25,692.05 310.19,699.70 C311.13,707.35 312.06,710.43 313.00,717.50 C313.93,724.57 314.87,737.03 315.80,742.10 C316.74,747.17 317.67,751.18 318.61,747.90 C319.55,744.62 320.48,724.28 321.42,722.40 C322.35,720.52 323.29,732.63 324.22,736.60 C325.16,740.57 326.09,744.37 327.03,746.20 C327.97,748.03 328.90,747.13 329.84,747.60 C330.77,748.07 331.71,751.90 332.64,749.00 C333.58,746.10 334.51,730.03 335.45,730.20 C336.39,730.37 337.32,743.17 338.26,750.00 C339.19,756.83 340.13,768.27 341.06,771.20 C342.00,774.13 342.93,767.80 343.87,767.60 C344.81,767.40 345.74,768.10 346.68,770.00 C347.61,771.90 348.55,776.97 349.48,779.00 C350.42,781.03 351.35,782.07 352.29,782.20 C353.23,782.33 354.16,780.35 355.10,779.80 C356.03,779.25 356.97,776.47 357.90,778.90 C358.84,781.33 359.77,795.30 360.71,794.40 C361.65,793.50 362.58,779.58 363.52,773.50 C364.45,767.42 365.39,761.03 366.32,757.90 C367.26,754.77 368.19,752.35 369.13,754.70 C370.07,757.05 371.00,765.92 371.94,772.00 C372.87,778.08 373.81,788.33 374.74,791.20 C375.68,794.07 376.61,789.40 377.55,789.20 C378.49,789.00 379.42,789.53 380.36,790.00 C381.29,790.47 382.23,792.27 383.16,792.00 C384.10,791.73 385.03,790.17 385.97,788.40 C386.91,786.63 387.84,784.92 388.78,781.40 C389.71,777.88 390.65,770.43 391.58,767.30 C392.52,764.17 393.45,766.13 394.39,762.60 C395.33,759.07 396.26,749.63 397.20,746.10 C398.13,742.57 399.07,742.85 400.00,741.40 C400.94,739.95 401.87,734.05 402.81,737.40 C403.75,740.75 404.68,753.98 405.62,761.50 C406.55,769.02 407.49,777.92 408.42,782.50 C409.36,787.08 410.29,787.42 411.23,789.00 C412.17,790.58 413.10,791.72 414.04,792.00 C414.97,792.28 415.91,790.37 416.84,790.70 C417.78,791.03 418.71,794.70 419.65,794.00 C420.59,793.30 421.52,788.48 422.46,786.50 C423.39,784.52 424.33,780.72 425.26,782.10 C426.20,783.48 427.13,794.73 428.07,794.80 C429.01,794.87 429.94,784.35 430.88,782.50 C431.81,780.65 432.75,784.93 433.68,783.70 C434.62,782.47 435.55,775.68 436.49,775.10 C437.43,774.52 438.36,777.38 439.30,780.20 C440.23,783.02 441.17,790.12 442.10,792.00 C443.04,793.88 443.97,790.45 444.91,791.50 C445.85,792.55 446.78,799.47 447.72,798.30 C448.65,797.13 449.59,785.95 450.52,784.50 C451.46,783.05 452.39,785.67 453.33,789.60 C454.27,793.53 455.20,806.67 456.14,808.10 C457.07,809.53 458.01,801.42 458.94,798.20 C459.88,794.98 460.81,790.57 461.75,788.80 C462.69,787.03 463.62,787.75 464.56,787.60 C465.49,787.45 466.43,787.70 467.36,787.90 C468.30,788.10 469.23,787.88 470.17,788.80 C471.11,789.72 472.04,791.13 472.98,793.40 C473.91,795.67 474.85,799.42 475.78,802.40 C476.72,805.38 477.65,811.40 478.59,811.30 C479.53,811.20 480.46,802.70 481.40,801.80 C482.33,800.90 483.27,805.50 484.20,805.90 C485.14,806.30 486.07,804.63 487.01,804.20 C487.95,803.77 488.88,802.83 489.82,803.30 C490.75,803.77 491.69,806.85 492.62,807.00 C493.56,807.15 494.49,805.58 495.43,804.20 C496.37,802.82 497.30,801.83 498.24,798.70 C499.17,795.57 500.11,790.23 501.04,785.40 C501.98,780.57 502.91,770.75 503.85,769.70 C504.79,768.65 505.72,776.27 506.66,779.10 C507.59,781.93 508.53,786.95 509.46,786.70 C510.40,786.45 511.33,781.68 512.27,777.60 C513.21,773.52 514.14,762.72 515.08,762.20 C516.01,761.68 516.95,774.10 517.88,774.50 C518.82,774.90 519.75,765.45 520.69,764.60 C521.63,763.75 522.56,769.60 523.50,769.40 C524.43,769.20 525.37,763.73 526.30,763.40 C527.24,763.07 528.17,767.00 529.11,767.40 C530.05,767.80 530.98,765.15 531.92,765.80 C532.85,766.45 533.79,769.87 534.72,771.30 C535.66,772.73 536.59,773.28 537.53,774.40 C538.47,775.52 539.40,779.25 540.34,778.00 C541.27,776.75 542.21,768.02 543.14,766.90 C544.08,765.78 545.01,767.30 545.95,771.30 C546.89,775.30 547.82,784.95 548.76,790.90 C549.69,796.85 550.63,803.42 551.56,807.00 C552.50,810.58 553.43,811.18 554.37,812.40 C555.31,813.62 556.24,814.20 557.18,814.30 C558.11,814.40 559.05,810.38 559.98,813.00 C560.92,815.62 561.85,826.52 562.79,830.00 C563.73,833.48 564.66,832.12 565.60,833.90 C566.53,835.68 567.47,838.25 568.40,840.70 C569.34,843.15 570.27,845.17 571.21,848.60 C572.15,852.03 573.08,857.88 574.02,861.30 C574.95,864.72 575.89,867.17 576.82,869.10 C577.76,871.03 578.69,872.73 579.63,872.90 C580.57,873.07 581.50,871.22 582.44,870.10 C583.37,868.98 584.31,867.00 585.24,866.20 C586.18,865.40 587.11,864.33 588.05,865.30 C588.99,866.27 589.92,870.40 590.86,872.00 C591.79,873.60 592.73,875.55 593.66,874.90 C594.60,874.25 595.53,870.37 596.47,868.10 C597.41,865.83 598.34,862.27 599.28,861.30 C600.21,860.33 601.15,862.63 602.08,862.30 C603.02,861.97 603.95,860.93 604.89,859.30 C605.83,857.67 606.76,851.72 607.70,852.50 C608.63,853.28 609.57,863.62 610.50,864.00 C611.44,864.38 612.37,857.63 613.31,854.80 C614.25,851.97 615.18,849.62 616.12,847.00 C617.05,844.38 617.99,840.65 618.92,839.10 C619.86,837.55 620.79,837.98 621.73,837.70 C622.67,837.42 623.60,837.88 624.54,837.40 C625.47,836.92 626.41,834.75 627.34,834.80 C628.28,834.85 629.21,837.63 630.15,837.70 C631.09,837.77 632.02,837.05 632.96,835.20 C633.89,833.35 634.83,828.73 635.76,826.60 C636.70,824.47 637.63,822.72 638.57,822.40 C639.51,822.08 640.44,824.28 641.38,824.70 C642.31,825.12 643.25,825.03 644.18,824.90 C645.12,824.77 646.05,824.35 646.99,823.90 C647.93,823.45 648.86,822.13 649.80,822.20 C650.73,822.27 651.67,823.43 652.60,824.30 C653.54,825.17 654.47,826.23 655.41,827.40 C656.35,828.57 657.28,830.50 658.22,831.30 C659.15,832.10 660.09,832.30 661.02,832.20 C661.96,832.10 662.89,830.45 663.83,830.70 C664.77,830.95 665.70,831.52 666.64,833.70 C667.57,835.88 668.51,840.68 669.44,843.80 C670.38,846.92 671.31,849.45 672.25,852.40 C673.19,855.35 674.12,860.28 675.06,861.50 C675.99,862.72 676.93,860.07 677.86,859.70 C678.80,859.33 679.73,859.60 680.67,859.30 C681.61,859.00 682.54,857.18 683.48,857.90 C684.41,858.62 685.35,862.52 686.28,863.60 C687.22,864.68 688.15,864.80 689.09,864.40 C690.03,864.00 690.96,860.53 691.90,861.20 C692.83,861.87 693.77,867.80 694.70,868.40 C695.64,869.00 696.57,866.15 697.51,864.80 C698.45,863.45 699.38,861.02 700.32,860.30 C701.25,859.58 702.19,860.07 703.12,860.50 C704.06,860.93 704.99,862.70 705.93,862.90 C706.87,863.10 707.80,862.30 708.74,861.70 C709.67,861.10 710.61,861.00 711.54,859.30 C712.48,857.60 713.41,853.60 714.35,851.50 C715.29,849.40 716.22,847.35 717.16,846.70 C718.09,846.05 719.03,846.42 719.96,847.60 C720.90,848.78 721.83,851.90 722.77,853.80 C723.71,855.70 724.64,858.82 725.58,859.00 C726.51,859.18 727.45,855.37 728.38,854.90 C729.32,854.43 730.25,855.78 731.19,856.20 C732.13,856.62 733.06,857.80 734.00,857.40 C734.93,857.00 735.87,853.93 736.80,853.80 C737.74,853.67 738.67,856.35 739.61,856.60 C740.55,856.85 741.48,854.80 742.42,855.30 C743.35,855.80 744.29,859.57 745.22,859.60 C746.16,859.63 747.09,856.77 748.03,855.50 C748.97,854.23 749.90,852.27 750.84,852.00 C751.77,851.73 752.71,853.45 753.64,853.90 C754.58,854.35 755.51,855.42 756.45,854.70 C757.39,853.98 758.32,850.47 759.26,849.60 C760.19,848.73 761.13,849.37 762.06,849.50 C763.00,849.63 763.93,850.12 764.87,850.40 C765.81,850.68 766.74,851.92 767.68,851.20 C768.61,850.48 769.55,847.08 770.48,846.10 C771.42,845.12 772.35,845.70 773.29,845.30 C774.23,844.90 775.16,844.10 776.10,843.70 C777.03,843.30 777.97,843.13 778.90,842.90 C779.84,842.67 780.77,841.77 781.71,842.30 C782.65,842.83 783.58,844.82 784.52,846.10 C785.45,847.38 786.39,848.10 787.32,850.00 C788.26,851.90 789.19,856.58 790.13,857.50 C791.07,858.42 792.00,857.80 792.94,855.50 C793.87,853.20 794.81,847.77 795.74,843.70 C796.68,839.63 797.61,832.32 798.55,831.10 C799.49,829.88 800.42,836.78 801.36,836.40 C802.29,836.02 803.23,833.25 804.16,828.80 C805.10,824.35 806.03,810.60 806.97,809.70 C807.91,808.80 808.84,820.87 809.78,823.40 C810.71,825.93 811.65,823.72 812.58,824.90 C813.52,826.08 814.45,831.55 815.39,830.50 C816.33,829.45 817.26,820.85 818.20,818.60 C819.13,816.35 820.07,818.05 821.00,817.00 C821.94,815.95 822.87,815.30 823.81,812.30 C824.75,809.30 825.68,801.28 826.62,799.00 C827.55,796.72 828.49,799.20 829.42,798.60 C830.36,798.00 831.29,794.93 832.23,795.40 C833.17,795.87 834.10,799.88 835.04,801.40 C835.97,802.92 836.91,804.45 837.84,804.50 C838.78,804.55 839.71,800.78 840.65,801.70 C841.59,802.62 842.52,807.50 843.46,810.00 C844.39,812.50 845.33,816.70 846.26,816.70 C847.20,816.70 848.13,810.98 849.07,810.00 C850.01,809.02 850.94,811.33 851.88,810.80 C852.81,810.27 853.75,807.78 854.68,806.80 C855.62,805.82 856.55,804.97 857.49,804.90 C858.43,804.83 859.36,807.05 860.30,806.40 C861.23,805.75 862.17,802.23 863.10,801.00 C864.04,799.77 864.97,799.72 865.91,799.00 C866.85,798.28 867.78,798.27 868.72,796.70 C869.65,795.13 870.59,792.42 871.52,789.60 C872.46,786.78 873.39,779.20 874.33,779.80 C875.27,780.40 876.20,791.73 877.14,793.20 C878.07,794.67 879.01,790.30 879.94,788.60 C880.88,786.90 881.81,784.47 882.75,783.00 C883.69,781.53 884.62,781.23 885.56,779.80 C886.49,778.37 887.43,776.73 888.36,774.40 C889.30,772.07 890.23,766.33 891.17,765.80 C892.11,765.27 893.04,771.92 893.98,771.20 C894.91,770.48 895.85,764.18 896.78,761.50 C897.72,758.82 898.65,756.43 899.59,755.10 C900.53,753.77 901.46,753.05 902.40,753.50 C903.33,753.95 904.27,757.00 905.20,757.80 C906.14,758.60 907.07,755.53 908.01,758.30 C908.95,761.07 909.88,769.20 910.82,774.40 C911.75,779.60 912.69,783.03 913.62,789.50 C914.56,795.97 915.49,806.02 916.43,813.20 C917.37,820.38 918.30,828.65 919.24,832.60 C920.17,836.55 921.11,835.28 922.04,836.90 C922.98,838.52 923.91,844.10 924.85,842.30 C925.79,840.50 926.72,830.60 927.66,826.10 C928.59,821.60 929.53,818.88 930.46,815.30 C931.40,811.72 932.33,806.92 933.27,804.60 C934.21,802.28 935.14,804.27 936.08,801.40 C937.01,798.53 937.95,793.15 938.88,787.40 C939.82,781.65 940.75,772.20 941.69,766.90 C942.63,761.60 943.56,759.43 944.50,755.60 C945.43,751.77 946.37,746.83 947.30,743.90 C948.24,740.97 949.17,741.27 950.11,738.00 C951.05,734.73 951.98,728.42 952.92,724.30 C953.85,720.18 954.79,717.20 955.72,713.30 C956.66,709.40 957.59,704.33 958.53,700.90 C959.47,697.47 960.40,695.90 961.34,692.70 C962.27,689.50 963.21,687.30 964.14,681.70 C965.08,676.10 966.01,663.43 966.95,659.10 C967.89,654.77 968.82,658.10 969.76,655.70 C970.69,653.30 971.63,648.32 972.56,644.70 C973.50,641.08 974.43,638.12 975.37,634.00 C976.31,629.88 977.24,624.33 978.18,620.00 C979.11,615.67 980.05,609.67 980.98,608.00 C981.92,606.33 982.85,614.33 983.79,610.00 C984.73,605.67 985.66,590.33 986.60,582.00 C987.53,573.67 988.47,566.17 989.40,560.00 C990.34,553.83 991.27,549.83 992.21,545.00 C993.15,540.17 994.08,534.88 995.02,531.00 C995.95,527.12 996.89,525.47 997.82,521.70 C998.76,517.93 999.69,510.37 1000.63,508.40 C1001.57,506.43 1002.50,511.22 1003.44,509.90 C1004.37,508.58 1005.31,505.65 1006.24,500.50 C1007.18,495.35 1008.11,485.73 1009.05,479.00 C1009.99,472.27 1010.92,465.77 1011.86,460.10 C1012.79,454.43 1013.73,450.02 1014.66,445.00 C1015.60,439.98 1016.53,435.25 1017.47,430.00 C1018.41,424.75 1019.34,416.93 1020.28,413.50 C1021.21,410.07 1022.15,414.20 1023.08,409.40 C1024.02,404.60 1024.95,390.70 1025.89,384.70 C1026.83,378.70 1027.76,375.00 1028.70,373.40 C1029.63,371.80 1030.57,375.05 1031.50,375.10 C1032.44,375.15 1033.37,373.37 1034.31,373.70 C1035.25,374.03 1036.18,376.18 1037.12,377.10 C1038.05,378.02 1038.99,376.33 1039.92,379.20 C1040.86,382.07 1041.79,389.03 1042.73,394.30 C1043.67,399.57 1044.60,407.67 1045.54,410.80 C1046.47,413.93 1047.41,414.27 1048.34,413.10 C1049.28,411.93 1050.21,407.07 1051.15,403.80 C1052.09,400.53 1053.02,396.63 1053.96,393.50 C1054.89,390.37 1055.83,387.58 1056.76,385.00 C1057.70,382.42 1058.63,378.30 1059.57,378.00 C1060.51,377.70 1061.44,382.60 1062.38,383.20 C1063.31,383.80 1064.25,381.05 1065.18,381.60 C1066.12,382.15 1067.05,384.25 1067.99,386.50 C1068.93,388.75 1069.86,393.32 1070.80,395.10 C1071.73,396.88 1072.67,398.82 1073.60,397.20 C1074.54,395.58 1075.47,387.18 1076.41,385.40 C1077.35,383.62 1078.28,388.47 1079.22,386.50 C1080.15,384.53 1081.09,376.48 1082.02,373.60 C1082.96,370.72 1083.89,373.33 1084.83,369.20 C1085.77,365.07 1086.70,355.25 1087.64,348.80 C1088.57,342.35 1089.51,333.82 1090.44,330.50 C1091.38,327.18 1092.31,330.33 1093.25,328.90 C1094.19,327.47 1095.12,323.60 1096.06,321.90 C1096.99,320.20 1097.93,320.13 1098.86,318.70 C1099.80,317.27 1100.73,314.92 1101.67,313.30 C1102.61,311.68 1103.54,309.37 1104.48,309.00 C1105.41,308.63 1106.35,310.03 1107.28,311.10 C1108.22,312.17 1109.15,310.55 1110.09,315.40 C1111.03,320.25 1112.24,329.43 1112.90,340.20 C1113.55,350.97 1113.69,360.42 1114.02,380.00 C1114.35,399.58 1114.30,432.20 1114.86,457.70 C1115.42,483.20 1116.31,508.45 1117.39,533.00 C1118.46,557.55 1120.43,588.93 1121.32,605.00 C1122.21,621.07 1122.16,622.07 1122.72,629.40 C1123.28,636.73 1123.94,642.48 1124.68,649.00 C1125.43,655.52 1126.37,664.27 1127.21,668.50 C1128.05,672.73 1128.43,676.20 1129.74,674.40 C1131.05,672.60 1133.62,657.05 1135.07,657.70 C1136.52,658.35 1137.55,673.57 1138.44,678.30 C1139.33,683.03 1139.93,683.27 1140.40,686.10 C1140.87,688.93 1140.26,691.42 1141.24,695.30 C1142.23,699.18 1144.94,704.52 1146.30,709.40 C1147.65,714.28 1148.63,718.73 1149.38,724.60 C1150.13,730.47 1150.41,738.53 1150.79,744.60 C1151.16,750.67 1150.88,755.72 1151.63,761.00 C1152.38,766.28 1153.83,771.10 1155.28,776.30 C1156.73,781.50 1158.88,790.63 1160.33,792.20 C1161.78,793.77 1162.76,790.70 1163.98,785.70 C1165.19,780.70 1166.64,767.28 1167.63,762.20 C1168.61,757.12 1168.33,759.70 1169.87,755.20 C1171.42,750.70 1175.30,740.30 1176.89,735.20 C1178.48,730.10 1178.62,729.30 1179.41,724.60 C1180.21,719.90 1180.68,713.10 1181.66,707.00 C1182.64,700.90 1184.33,694.23 1185.31,688.00 C1186.29,681.77 1187.02,674.50 1187.55,669.60 C1188.09,664.70 1187.93,662.25 1188.51,658.60 C1189.08,654.95 1190.14,651.12 1191.01,647.70 C1191.87,644.28 1192.80,641.75 1193.70,638.10 C1194.60,634.45 1195.36,628.37 1196.39,625.80 C1197.43,623.23 1198.52,622.37 1199.90,622.70 C1201.29,623.03 1203.22,625.92 1204.70,627.80 C1206.19,629.68 1207.43,633.55 1208.80,634.00 C1210.17,634.45 1211.53,631.65 1212.90,630.50 C1214.26,629.35 1215.98,630.17 1217.00,627.10 C1218.01,624.03 1218.31,615.18 1218.99,612.10 C1219.67,609.02 1220.29,609.98 1221.09,608.60 C1221.89,607.22 1222.75,606.65 1223.79,603.80 C1224.82,600.95 1226.26,594.58 1227.30,591.50 C1228.33,588.42 1229.09,586.33 1229.99,585.30 C1230.89,584.27 1231.65,585.75 1232.69,585.30 C1233.72,584.85 1235.16,582.93 1236.19,582.60 C1237.23,582.27 1238.09,583.53 1238.89,583.30 C1239.69,583.07 1240.08,580.52 1240.99,581.20 C1241.91,581.88 1243.26,587.52 1244.39,587.40 C1245.52,587.28 1246.99,581.42 1247.79,580.50 C1248.58,579.58 1248.27,580.40 1249.19,581.90 C1250.11,583.40 1251.80,585.17 1253.29,589.50 C1254.77,593.83 1255.69,603.23 1258.09,607.90 C1260.49,612.57 1266.08,615.90 1267.68,617.50" stroke="#0000ff" stroke-width="2.2" fill="none" stroke-linejoin="round" stroke-linecap="round"/>
<!-- dashed trend -->
<path d="M768.8,844.5 L1240.3,578.8" stroke="#000" stroke-width="3.2" stroke-dasharray="12.9 10.05" fill="none"/>
<path d="M1240.1,570.9 L1255.1,570.5 L1247.3,582.4 Z" fill="#000"/>
</svg>
</body></html>
